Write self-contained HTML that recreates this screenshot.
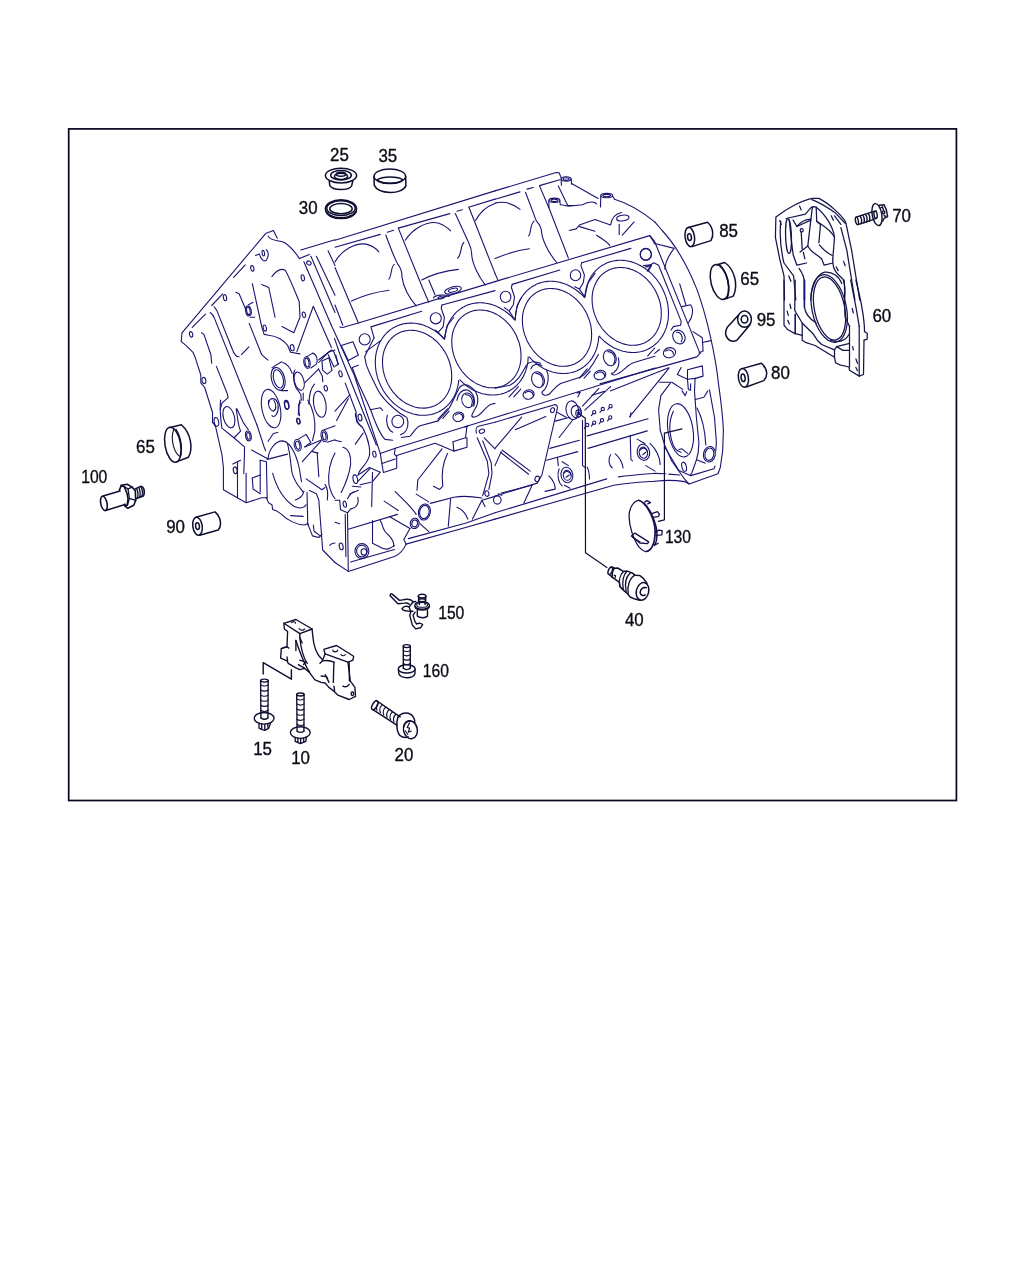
<!DOCTYPE html>
<html><head><meta charset="utf-8"><title>Cylinder crankcase</title>
<style>
html,body{margin:0;padding:0;background:#fff;}
body{width:1024px;height:1280px;overflow:hidden;position:relative;}
svg{position:absolute;left:0;top:0;display:block;}
text{font-family:"Liberation Sans",sans-serif;fill:#0a0a14;}
</style></head><body>
<svg width="1024" height="1280" viewBox="0 0 1024 1280" stroke-linecap="round" stroke-linejoin="round">
<rect x="0" y="0" width="1024" height="1280" fill="#ffffff" stroke="none"/>
<rect x="68.7" y="128.9" width="887.7" height="671.6" fill="none" stroke="#07041f" stroke-width="1.7" stroke-linejoin="miter"/>
<g id="art">
<ellipse cx="341.0" cy="175.6" rx="15.6" ry="7.3" transform="rotate(0 341.0 175.6)" stroke="#0e0e30" stroke-width="1.5" fill="none"/>
<ellipse cx="341.0" cy="175.2" rx="10.3" ry="4.7" transform="rotate(0 341.0 175.2)" stroke="#0e0e30" stroke-width="1.5" fill="none"/>
<ellipse cx="341.0" cy="176.3" rx="6.6" ry="3.1" transform="rotate(0 341.0 176.3)" stroke="#0e0e30" stroke-width="1.5" fill="none"/>
<ellipse cx="341.0" cy="174.2" rx="4.7" ry="2.0" transform="rotate(0 341.0 174.2)" stroke="#0e0e30" stroke-width="1.5" fill="none"/>
<path d="M 329.3 181.5 L 329.8 185.7 C 332.7 190.8 349.3 190.8 351.7 185.7 L 352.7 181.5" stroke="#0e0e30" stroke-width="1.5" fill="none"/>
<ellipse cx="389.8" cy="176.3" rx="15.8" ry="7.3" transform="rotate(0 389.8 176.3)" stroke="#0e0e30" stroke-width="1.5" fill="none"/>
<path d="M 377.1 179.8 C 382.5 176.1 398.1 176.1 403.0 179.8 C 398.1 184.4 382.5 184.4 377.1 179.8" stroke="#0e0e30" stroke-width="1.5" fill="none"/>
<path d="M 374.0 176.9 L 374.2 185.1 C 378.6 194.7 402.0 194.7 405.9 185.9 L 405.7 176.6" stroke="#0e0e30" stroke-width="1.5" fill="none"/>
<ellipse cx="341.0" cy="208.7" rx="15.6" ry="9.0" transform="rotate(0 341.0 208.7)" stroke="#0e0e30" stroke-width="1.5" fill="none"/>
<ellipse cx="341.0" cy="208.2" rx="14.2" ry="7.4" transform="rotate(0 341.0 208.2)" stroke="#0e0e30" stroke-width="1.5" fill="none"/>
<ellipse cx="341.0" cy="208.7" rx="11.2" ry="5.1" transform="rotate(0 341.0 208.7)" stroke="#0e0e30" stroke-width="1.5" fill="none"/>
<path d="M 325.7 211.1 C 328.8 221.1 353.2 221.1 356.5 211.1" stroke="#0e0e30" stroke-width="1.5" fill="none"/>
<ellipse cx="689.8" cy="237.0" rx="4.7" ry="9.7" transform="rotate(-8 689.8 237.0)" stroke="#0e0e30" stroke-width="1.5" fill="none"/>
<ellipse cx="689.5" cy="237.2" rx="1.9" ry="3.4" transform="rotate(-8 689.5 237.2)" stroke="#0e0e30" stroke-width="1.5" fill="none"/>
<path d="M 688.4 227.5 L 707.5 222.3 C 713.8 228.1 713.8 235.9 710.9 240.6 L 691.9 246.6" stroke="#0e0e30" stroke-width="1.5" fill="none"/>
<ellipse cx="719.4" cy="282.0" rx="8.4" ry="17.8" transform="rotate(-14 719.4 282.0)" stroke="#0e0e30" stroke-width="1.5" fill="none"/>
<path d="M 716.9 264.7 L 724.7 262.5 C 734.1 268.8 738.8 284.4 733.3 296.1 L 723.9 299.4" stroke="#0e0e30" stroke-width="1.5" fill="none"/>
<path d="M 719.7 264.8 C 728.1 273.4 730.9 287.5 727.2 298.4" stroke="#0e0e30" stroke-width="1.5" fill="none"/>
<ellipse cx="744.5" cy="319.2" rx="6.9" ry="8.1" transform="rotate(0 744.5 319.2)" stroke="#0e0e30" stroke-width="1.5" fill="none"/>
<ellipse cx="744.5" cy="319.2" rx="3.3" ry="3.8" transform="rotate(0 744.5 319.2)" stroke="#0e0e30" stroke-width="1.5" fill="none"/>
<path d="M 738.3 315.3 L 727.5 326.9 C 722.3 335.9 729.4 343.8 736.9 340.3 L 750.0 324.7" stroke="#0e0e30" stroke-width="1.5" fill="none"/>
<ellipse cx="743.4" cy="377.8" rx="5.0" ry="9.4" transform="rotate(-8 743.4 377.8)" stroke="#0e0e30" stroke-width="1.5" fill="none"/>
<ellipse cx="743.1" cy="377.8" rx="2.0" ry="3.8" transform="rotate(-8 743.1 377.8)" stroke="#0e0e30" stroke-width="1.5" fill="none"/>
<path d="M 742.2 368.6 L 761.4 363.3 C 768.4 369.5 767.7 376.6 763.8 380.6 L 746.2 387.0" stroke="#0e0e30" stroke-width="1.5" fill="none"/>
<path d="M 784.5 300.0 L 784.0 275.9 L 779.7 258.8 L 775.4 237.3 L 775.9 216.9 C 786.1 209.3 802.2 199.7 813.0 198.4 L 818.9 198.4 C 830.2 204.0 843.0 216.9 845.7 222.2 L 851.6 250.2 L 859.7 300.0" stroke="#15154c" stroke-width="1.25" fill="none"/>
<path d="M 811.9 199.7 C 820.5 202.9 830.2 209.3 835.5 213.1 L 845.2 223.3" stroke="#15154c" stroke-width="1.25" fill="none"/>
<path d="M 834.5 215.8 L 840.9 224.4" stroke="#15154c" stroke-width="1.25" fill="none"/>
<path d="M 840.9 227.6 L 846.8 250.2 L 854.9 300.0" stroke="#15154c" stroke-width="1.25" fill="none"/>
<path d="M 780.7 221.2 C 779.7 233.0 780.7 250.2 784.0 263.0 L 793.6 275.9 L 795.8 300.0" stroke="#15154c" stroke-width="1.25" fill="none"/>
<ellipse cx="788.5" cy="236.2" rx="2.9" ry="17.4" transform="rotate(-2 788.5 236.2)" stroke="#15154c" stroke-width="1.25" fill="none"/>
<path d="M 789.3 220.1 L 791.5 241.6 L 793.1 254.5 L 796.9 265.2 L 806.5 263.0" stroke="#15154c" stroke-width="1.25" fill="none"/>
<path d="M 786.1 218.5 L 805.4 214.2 L 811.4 207.2 L 813.0 207.2" stroke="#15154c" stroke-width="1.25" fill="none"/>
<path d="M 793.1 220.1 L 796.9 226.5 L 810.8 220.1" stroke="#15154c" stroke-width="1.25" fill="none"/>
<path d="M 796.9 226.5 C 801.2 221.2 806.5 219.0 810.8 219.0" stroke="#15154c" stroke-width="1.25" fill="none"/>
<path d="M 812.4 207.2 L 810.8 220.1 L 807.8 245.9 L 800.1 252.1" stroke="#15154c" stroke-width="1.25" fill="none"/>
<path d="M 801.2 231.9 L 802.2 249.1" stroke="#15154c" stroke-width="1.25" fill="none"/>
<path d="M 803.3 252.3 L 804.9 258.8" stroke="#15154c" stroke-width="1.25" fill="none"/>
<ellipse cx="801.7" cy="230.3" rx="1.5" ry="1.7" transform="rotate(0 801.7 230.3)" stroke="#15154c" stroke-width="1.25" fill="none"/>
<path d="M 813.0 206.7 L 816.2 207.2 L 816.7 221.2 L 820.5 224.4 L 818.9 242.6" stroke="#15154c" stroke-width="1.25" fill="none"/>
<path d="M 816.2 207.2 C 825.9 214.7 833.4 227.6 834.5 237.3 L 832.8 258.8" stroke="#15154c" stroke-width="1.25" fill="none"/>
<path d="M 816.7 221.2 L 821.6 224.4 C 828.0 228.7 832.3 233.0 834.5 237.3" stroke="#15154c" stroke-width="1.25" fill="none"/>
<path d="M 819.4 244.8 C 823.7 250.2 828.0 253.4 832.3 255.5" stroke="#15154c" stroke-width="1.25" fill="none"/>
<path d="M 807.8 245.9 C 810.8 252.3 817.3 254.5 821.6 258.8 L 824.2 265.2 L 832.8 263.0 L 832.8 258.8" stroke="#15154c" stroke-width="1.25" fill="none"/>
<path d="M 832.8 263.0 C 833.4 271.6 838.8 274.9 843.0 279.2 C 845.2 284.5 845.4 292.1 844.3 300.0" stroke="#15154c" stroke-width="1.25" fill="none"/>
<path d="M 799.5 206.1 L 801.2 209.9" stroke="#15154c" stroke-width="1.25" fill="none"/>
<path d="M 831.2 215.8 L 833.4 220.1" stroke="#15154c" stroke-width="1.25" fill="none"/>
<path d="M 779.7 220.6 L 781.3 224.4" stroke="#15154c" stroke-width="1.25" fill="none"/>
<path d="M 788.8 275.9 L 790.9 281.3" stroke="#15154c" stroke-width="1.25" fill="none"/>
<path d="M 843.6 261.4 L 845.2 265.7" stroke="#15154c" stroke-width="1.25" fill="none"/>
<path d="M 836.1 266.8 L 838.2 270.6" stroke="#15154c" stroke-width="1.25" fill="none"/>
<path d="M 799.0 268.4 C 802.2 272.7 803.8 275.9 804.4 281.3" stroke="#15154c" stroke-width="1.25" fill="none"/>
<path d="M 804.4 281.3 L 804.4 300.0" stroke="#1a1470" stroke-width="1.6" fill="none"/>
<path d="M 810.6 300.0 C 811.7 284.5 817.3 273.8 824.8 272.2 C 832.3 271.6 838.8 275.9 841.8 283.5" stroke="#15154c" stroke-width="1.25" fill="none"/>
<ellipse cx="829.5" cy="308.5" rx="15.1" ry="32.0" transform="rotate(-11.6 829.5 308.5)" stroke="#15154c" stroke-width="1.25" fill="none"/>
<ellipse cx="829.2" cy="308.5" rx="17.2" ry="34.3" transform="rotate(-11.6 829.2 308.5)" stroke="#15154c" stroke-width="1.25" fill="none"/>
<path d="M 784.0 280.0 L 784.0 325.1 L 787.2 329.2 L 794.5 333.4 L 802.2 335.3" stroke="#15154c" stroke-width="1.25" fill="none"/>
<path d="M 795.2 280.0 L 794.7 310.1 L 795.8 312.2 L 802.2 323.0 L 805.4 326.2 L 813.0 333.7 L 817.3 340.2 L 821.6 344.5 L 834.5 349.8 L 834.5 357.3" stroke="#15154c" stroke-width="1.25" fill="none"/>
<path d="M 795.2 314.4 L 795.2 333.7" stroke="#1a1470" stroke-width="1.6" fill="none"/>
<path d="M 804.4 280.0 L 804.4 306.9" stroke="#1a1470" stroke-width="1.6" fill="none"/>
<path d="M 802.2 323.0 L 802.2 340.2 L 805.4 342.3 L 815.1 345.5 L 834.5 357.3 L 835.5 362.7 L 839.8 364.9 L 849.0 367.0 L 849.5 370.2 L 859.2 376.1 L 863.5 374.5 L 864.0 340.2" stroke="#15154c" stroke-width="1.25" fill="none"/>
<path d="M 834.5 349.8 L 836.6 346.6 L 849.5 343.4" stroke="#15154c" stroke-width="1.25" fill="none"/>
<path d="M 836.6 346.6 L 843.0 350.4 L 849.5 350.4" stroke="#15154c" stroke-width="1.25" fill="none"/>
<path d="M 849.5 326.2 L 849.5 367.0" stroke="#15154c" stroke-width="1.25" fill="none"/>
<path d="M 859.2 326.2 L 859.2 376.1" stroke="#15154c" stroke-width="1.25" fill="none"/>
<path d="M 855.9 280.0 C 861.3 301.5 864.5 317.6 864.5 331.6 L 867.2 333.2 L 867.2 339.1 L 864.3 340.2" stroke="#15154c" stroke-width="1.25" fill="none"/>
<path d="M 850.6 280.0 L 855.9 306.9 L 859.2 326.2" stroke="#15154c" stroke-width="1.25" fill="none"/>
<path d="M 844.1 280.0 C 845.2 292.9 844.1 306.9 845.2 317.6 L 849.5 326.2" stroke="#15154c" stroke-width="1.25" fill="none"/>
<path d="M 804.4 306.9 C 805.4 315.4 810.8 319.7 816.2 323.0" stroke="#15154c" stroke-width="1.25" fill="none"/>
<path d="M 849.5 333.7 C 845.2 341.2 838.8 343.4 830.2 340.2" stroke="#15154c" stroke-width="1.25" fill="none"/>
<path d="M 789.9 304.2 L 790.9 308.5" stroke="#15154c" stroke-width="1.25" fill="none"/>
<path d="M 787.2 311.2 L 788.3 315.4" stroke="#15154c" stroke-width="1.25" fill="none"/>
<path d="M 787.7 320.3 L 789.3 324.0" stroke="#15154c" stroke-width="1.25" fill="none"/>
<path d="M 852.2 308.5 L 853.3 312.8" stroke="#15154c" stroke-width="1.25" fill="none"/>
<path d="M 852.7 346.6 L 853.3 349.8" stroke="#15154c" stroke-width="1.25" fill="none"/>
<path d="M 855.9 359.0 L 857.5 363.3" stroke="#15154c" stroke-width="1.25" fill="none"/>
<path d="M 855.9 367.5 L 857.5 370.8" stroke="#15154c" stroke-width="1.25" fill="none"/>
<ellipse cx="856.9" cy="220.9" rx="1.4" ry="3.8" transform="rotate(-12 856.9 220.9)" stroke="#0e0e30" stroke-width="1.4" fill="none"/>
<path d="M 856.2 217.1 L 870.8 212.3 L 876.2 210.9" stroke="#0e0e30" stroke-width="1.4" fill="none"/>
<path d="M 857.9 224.6 L 871.6 220.1 L 876.2 218.3" stroke="#0e0e30" stroke-width="1.4" fill="none"/>
<path d="M 859.8 216.2 C 861.6 217.3 862.2 221.2 861.0 223.8" stroke="#0e0e30" stroke-width="1.4" fill="none"/>
<path d="M 862.6 215.3 C 864.3 216.5 864.9 220.4 863.8 222.9" stroke="#0e0e30" stroke-width="1.4" fill="none"/>
<path d="M 865.3 214.5 C 867.0 215.7 867.7 219.6 866.5 222.1" stroke="#0e0e30" stroke-width="1.4" fill="none"/>
<path d="M 868.0 213.7 C 869.8 214.8 870.4 218.8 869.2 221.2" stroke="#0e0e30" stroke-width="1.4" fill="none"/>
<ellipse cx="875.6" cy="214.7" rx="1.6" ry="3.6" transform="rotate(-8 875.6 214.7)" stroke="#0e0e30" stroke-width="1.4" fill="none"/>
<ellipse cx="877.0" cy="214.6" rx="4.8" ry="11.1" transform="rotate(-10 877.0 214.6)" stroke="#0e0e30" stroke-width="1.4" fill="none"/>
<path d="M 879.4 205.2 L 884.1 204.7 L 886.4 209.9 L 887.6 216.6 L 884.1 218.3 L 882.7 221.2" stroke="#0e0e30" stroke-width="1.4" fill="none"/>
<path d="M 880.5 208.0 L 882.5 206.8 L 883.3 209.5" stroke="#0e0e30" stroke-width="1.4" fill="none"/>
<ellipse cx="883.7" cy="212.3" rx="1.1" ry="1.7" transform="rotate(0 883.7 212.3)" stroke="#0e0e30" stroke-width="1.4" fill="none"/>
<path d="M 884.1 215.8 L 885.6 216.2" stroke="#0e0e30" stroke-width="1.4" fill="none"/>
<ellipse cx="172.8" cy="444.7" rx="7.8" ry="17.7" transform="rotate(-10 172.8 444.7)" stroke="#0e0e30" stroke-width="1.5" fill="none"/>
<path d="M 170.1 427.5 L 181.4 424.8 C 191.5 433.8 193.1 449.4 188.4 457.2 L 176.4 461.9" stroke="#0e0e30" stroke-width="1.5" fill="none"/>
<path d="M 173.6 429.8 C 170.4 438.4 173.6 452.5 179.8 456.4" stroke="#0e0e30" stroke-width="1.1" fill="none"/>
<path d="M 175.9 429.1 C 181.4 436.9 182.6 449.4 180.6 456.4" stroke="#0e0e30" stroke-width="1.1" fill="none"/>
<ellipse cx="103.9" cy="503.4" rx="3.1" ry="7.3" transform="rotate(-12 103.9 503.4)" stroke="#0e0e30" stroke-width="1.6" fill="none"/>
<path d="M 103.1 496.1 L 120.0 491.1" stroke="#0e0e30" stroke-width="1.6" fill="none"/>
<path d="M 105.7 510.4 L 125.0 504.4" stroke="#0e0e30" stroke-width="1.6" fill="none"/>
<path d="M 119.4 490.1 L 121.3 485.4 L 124.3 486.7 L 127.2 494.0 L 128.0 498.8 L 127.2 505.2 L 124.8 505.9 L 124.8 504.2" stroke="#0e0e30" stroke-width="1.6" fill="none"/>
<path d="M 121.3 485.4 L 127.2 484.3 L 132.1 487.1 L 135.3 490.7 L 135.7 500.4 L 133.7 505.2 L 127.8 508.3 L 124.8 505.9" stroke="#0e0e30" stroke-width="1.6" fill="none"/>
<path d="M 124.3 486.7 L 128.0 488.9 L 132.1 487.1" stroke="#0e0e30" stroke-width="1.3" fill="none"/>
<path d="M 128.0 488.9 L 129.4 498.3 L 135.7 500.4" stroke="#0e0e30" stroke-width="1.3" fill="none"/>
<path d="M 129.4 498.3 L 127.5 505.2" stroke="#0e0e30" stroke-width="1.3" fill="none"/>
<path d="M 135.3 488.9 L 140.6 486.4 C 143.3 486.3 144.9 489.7 144.1 494.0 L 143.3 496.1 L 135.8 498.8" stroke="#0e0e30" stroke-width="1.6" fill="none"/>
<path d="M 136.6 488.6 C 138.0 491.3 138.2 495.6 137.4 498.3" stroke="#0e0e30" stroke-width="1.3" fill="none"/>
<path d="M 138.8 487.5 C 140.2 490.5 140.4 494.8 139.6 497.3" stroke="#0e0e30" stroke-width="1.3" fill="none"/>
<path d="M 140.9 486.7 C 142.5 489.7 142.7 494.0 141.8 496.5" stroke="#0e0e30" stroke-width="1.3" fill="none"/>
<ellipse cx="197.5" cy="526.2" rx="4.7" ry="9.1" transform="rotate(-8 197.5 526.2)" stroke="#0e0e30" stroke-width="1.5" fill="none"/>
<ellipse cx="197.5" cy="526.2" rx="1.9" ry="3.4" transform="rotate(-8 197.5 526.2)" stroke="#0e0e30" stroke-width="1.5" fill="none"/>
<path d="M 195.9 517.3 L 215.0 511.9 C 221.7 518.1 221.7 525.9 218.1 530.0 L 199.8 535.2" stroke="#0e0e30" stroke-width="1.5" fill="none"/>
<path d="M 578.6 413.3 L 585.3 418.3 L 585.5 552.7 L 606.9 567.5" stroke="#0e0e30" stroke-width="1.2" fill="none"/>
<path d="M 682.0 428.8 L 664.4 433.1 L 664.4 519.8 L 658.4 521.4" stroke="#0e0e30" stroke-width="1.2" fill="none"/>
<path d="M 638.7 500.3 C 633.5 500.9 629.4 507.9 629.1 515.5 C 628.8 525.5 633.5 539.5 638.7 546.6 C 641.7 550.1 644.0 551.5 646.4 551.5" stroke="#15104e" stroke-width="1.3" fill="none"/>
<path d="M 638.7 500.3 C 642.3 501.4 647.5 507.3 651.0 514.3 C 654.0 520.8 655.4 527.8 655.1 533.1 C 654.9 540.7 652.8 546.6 650.5 549.2 C 649.0 550.7 647.5 551.5 646.4 551.5" stroke="#15104e" stroke-width="1.7" fill="none"/>
<path d="M 644.6 503.8 C 649.3 508.5 654.0 518.4 656.3 527.8 C 657.5 534.8 656.9 541.3 654.6 545.4" stroke="#15104e" stroke-width="1.5" fill="none"/>
<path d="M 644.6 502.1 L 646.9 500.6 L 650.5 502.6 L 647.7 503.9" stroke="#15104e" stroke-width="1.3" fill="none"/>
<path d="M 651.0 513.9 L 657.5 511.7 L 659.5 514.3 L 658.1 516.7 L 652.9 517.4" stroke="#15104e" stroke-width="1.3" fill="none"/>
<path d="M 655.3 532.5 L 658.7 530.1 L 662.2 530.7 L 661.9 534.8 L 655.9 535.4" stroke="#15104e" stroke-width="1.3" fill="none"/>
<path d="M 654.7 544.8 L 658.1 543.3" stroke="#15104e" stroke-width="1.3" fill="none"/>
<path d="M 631.4 536.0 L 634.9 533.1 L 648.7 541.9 L 647.5 543.6 L 639.9 543.0 Z" stroke="#15104e" stroke-width="1.3" fill="none"/>
<path d="M 632.6 537.3 L 640.2 542.0" stroke="#15104e" stroke-width="1.1" fill="none"/>
<ellipse cx="610.3" cy="570.8" rx="1.9" ry="3.9" transform="rotate(22 610.3 570.8)" stroke="#0e0e30" stroke-width="1.5" fill="none"/>
<path d="M 611.7 567.0 L 614.5 568.2" stroke="#0e0e30" stroke-width="1.5" fill="none"/>
<path d="M 609.4 574.6 L 612.4 577.3" stroke="#0e0e30" stroke-width="1.5" fill="none"/>
<path d="M 614.5 568.2 C 612.6 570.2 612.0 574.3 612.4 577.3" stroke="#0e0e30" stroke-width="1.5" fill="none"/>
<path d="M 615.3 568.2 L 617.6 568.0 L 623.4 571.4 L 626.9 571.1 L 631.6 572.6 L 635.1 575.2 L 639.8 575.5 L 643.4 578.4 L 646.9 583.1" stroke="#0e0e30" stroke-width="1.5" fill="none"/>
<path d="M 612.4 577.3 L 619.3 582.2 L 619.9 586.6 L 623.4 590.1 L 627.5 593.7 L 630.5 597.2 L 635.1 599.1 L 639.8 600.2" stroke="#0e0e30" stroke-width="1.5" fill="none"/>
<path d="M 614.1 575.2 L 615.5 575.5 L 615.2 577.6" stroke="#0e0e30" stroke-width="1.2" fill="none"/>
<path d="M 623.3 571.7 C 619.9 574.9 618.7 580.8 619.9 585.8" stroke="#0e0e30" stroke-width="1.3" fill="none"/>
<path d="M 626.7 571.5 C 623.0 574.9 622.0 582.5 623.3 589.0" stroke="#0e0e30" stroke-width="1.3" fill="none"/>
<path d="M 630.8 572.6 C 625.8 576.7 624.6 584.3 626.2 591.4" stroke="#0e0e30" stroke-width="1.3" fill="none"/>
<path d="M 634.9 575.1 C 629.3 578.4 626.9 586.6 628.2 593.8" stroke="#0e0e30" stroke-width="1.3" fill="none"/>
<ellipse cx="642.5" cy="591.4" rx="6.2" ry="8.9" transform="rotate(14 642.5 591.4)" stroke="#0e0e30" stroke-width="1.5" fill="none"/>
<path d="M 646.3 587.8 C 643.4 586.6 640.4 589.0 640.1 592.5 C 640.4 595.5 643.4 596.1 645.1 594.8" stroke="#0e0e30" stroke-width="1.5" fill="none"/>
<path d="M 390.4 596.1 C 389.7 594.5 390.9 593.3 392.2 594.1 L 399.5 600.4 L 406.5 599.3 C 409.7 599.1 411.9 600.4 413.0 601.5" stroke="#0e0e30" stroke-width="1.4" fill="none"/>
<path d="M 390.4 596.1 L 397.9 603.8 L 404.4 603.1 C 406.5 602.8 408.1 603.1 409.2 604.2" stroke="#0e0e30" stroke-width="1.4" fill="none"/>
<path d="M 402.2 608.5 C 403.3 606.3 406.5 605.6 409.2 606.9 L 413.0 602.0 L 415.7 601.5" stroke="#0e0e30" stroke-width="1.4" fill="none"/>
<path d="M 402.2 608.5 C 402.2 610.6 404.4 611.2 413.0 611.2" stroke="#0e0e30" stroke-width="1.4" fill="none"/>
<path d="M 409.2 606.9 L 410.8 612.2 L 409.7 615.4 L 412.4 625.1 L 415.7 628.9 L 420.5 627.8 L 422.6 624.6 C 421.6 623.0 418.3 623.0 416.7 624.0 L 415.1 621.9 L 413.0 615.4 L 415.1 612.2" stroke="#0e0e30" stroke-width="1.4" fill="none"/>
<ellipse cx="422.1" cy="596.1" rx="3.8" ry="1.9" transform="rotate(0 422.1 596.1)" stroke="#0e0e30" stroke-width="1.4" fill="none"/>
<path d="M 418.3 596.4 L 418.9 599.9" stroke="#0e0e30" stroke-width="1.4" fill="none"/>
<path d="M 425.9 596.4 L 425.5 599.9" stroke="#0e0e30" stroke-width="1.4" fill="none"/>
<ellipse cx="422.1" cy="600.2" rx="3.7" ry="1.5" transform="rotate(0 422.1 600.2)" stroke="#0e0e30" stroke-width="1.4" fill="none"/>
<path d="M 419.4 601.5 L 419.4 604.5" stroke="#0e0e30" stroke-width="1.4" fill="none"/>
<path d="M 425.1 601.5 L 425.1 604.5" stroke="#0e0e30" stroke-width="1.4" fill="none"/>
<ellipse cx="422.1" cy="605.4" rx="7.3" ry="3.8" transform="rotate(0 422.1 605.4)" stroke="#0e0e30" stroke-width="1.4" fill="none"/>
<ellipse cx="422.1" cy="604.9" rx="5.4" ry="2.4" transform="rotate(0 422.1 604.9)" stroke="#0e0e30" stroke-width="1.1" fill="none"/>
<path d="M 414.9 606.4 C 415.7 611.4 428.5 611.4 429.3 606.4" stroke="#0e0e30" stroke-width="1.4" fill="none"/>
<path d="M 417.3 610.4 L 417.3 616.0 C 419.4 618.3 425.9 618.3 427.5 616.0 L 427.5 610.4" stroke="#0e0e30" stroke-width="1.4" fill="none"/>
<ellipse cx="406.7" cy="646.1" rx="3.5" ry="1.5" transform="rotate(0 406.7 646.1)" stroke="#0e0e30" stroke-width="1.4" fill="none"/>
<path d="M 403.3 646.1 L 403.3 668.3" stroke="#0e0e30" stroke-width="1.4" fill="none"/>
<path d="M 410.3 646.1 L 410.3 668.3" stroke="#0e0e30" stroke-width="1.4" fill="none"/>
<path d="M 403.3 650.4 C 404.9 651.9 408.7 651.9 410.3 650.4" stroke="#0e0e30" stroke-width="1.1" fill="none"/>
<path d="M 403.3 654.7 C 404.9 656.2 408.7 656.2 410.3 654.7" stroke="#0e0e30" stroke-width="1.1" fill="none"/>
<path d="M 403.3 659.0 C 404.9 660.5 408.7 660.5 410.3 659.0" stroke="#0e0e30" stroke-width="1.1" fill="none"/>
<path d="M 403.3 663.3 C 404.9 664.8 408.7 664.8 410.3 663.3" stroke="#0e0e30" stroke-width="1.1" fill="none"/>
<path d="M 403.3 668.3 C 404.9 670.0 408.7 670.0 410.3 668.3" stroke="#0e0e30" stroke-width="1.4" fill="none"/>
<ellipse cx="406.7" cy="668.9" rx="8.4" ry="4.1" transform="rotate(0 406.7 668.9)" stroke="#0e0e30" stroke-width="1.4" fill="none"/>
<path d="M 398.4 669.4 L 398.8 673.7 C 401.2 679.0 413.0 679.0 414.9 673.7 L 415.1 669.4" stroke="#0e0e30" stroke-width="1.4" fill="none"/>
<path d="M 283.8 623.3 L 295.9 619.5 L 312.1 629.0 L 299.9 633.6 Z" stroke="#0e0e30" stroke-width="1.35" fill="none"/>
<path d="M 283.8 623.3 L 284.4 629.0 L 287.6 631.6 L 287.0 646.8 L 281.3 648.7 L 280.6 658.2 L 287.0 660.8 L 288.2 663.3 L 295.9 667.8 L 299.7 669.7 L 304.7 668.4 L 309.2 672.2 L 314.9 679.8 L 321.2 682.4 L 325.1 683.0 L 328.9 687.4 L 333.9 691.2 L 337.8 695.1 L 349.2 699.5 L 355.5 696.3 L 354.9 687.4 L 350.4 681.1 L 347.9 662.1" stroke="#0e0e30" stroke-width="1.35" fill="none"/>
<path d="M 299.9 633.6 L 299.7 637.3 L 302.2 643.0" stroke="#0e0e30" stroke-width="1.35" fill="none"/>
<path d="M 312.1 629.0 L 312.6 634.4 C 313.6 648.1 317.4 655.7 322.5 659.8" stroke="#0e0e30" stroke-width="1.35" fill="none"/>
<path d="M 295.9 640.5 C 299.7 651.9 303.5 663.3 309.6 672.2" stroke="#0e0e30" stroke-width="1.35" fill="none"/>
<path d="M 299.7 637.3 C 300.9 648.1 303.5 658.2 307.3 663.3" stroke="#0e0e30" stroke-width="1.35" fill="none"/>
<path d="M 295.9 640.5 L 295.9 650.6" stroke="#0e0e30" stroke-width="1.35" fill="none"/>
<path d="M 287.0 646.8 L 288.9 648.1" stroke="#0e0e30" stroke-width="1.35" fill="none"/>
<path d="M 281.3 648.7 L 283.8 647.5 L 287.0 646.8" stroke="#0e0e30" stroke-width="1.35" fill="none"/>
<path d="M 291.4 622.7 C 292.7 621.2 295.2 621.7 295.6 623.3" stroke="#0e0e30" stroke-width="1.1" fill="none"/>
<path d="M 299.0 628.4 C 299.7 630.3 302.8 630.9 304.7 629.0" stroke="#0e0e30" stroke-width="1.1" fill="none"/>
<path d="M 323.8 649.4 L 336.5 645.5 L 353.6 656.3 L 353.0 660.1 L 347.9 662.1 L 325.1 653.8 Z" stroke="#0e0e30" stroke-width="1.35" fill="none"/>
<path d="M 325.1 653.8 L 322.5 660.8 L 320.0 663.3" stroke="#0e0e30" stroke-width="1.35" fill="none"/>
<path d="M 333.9 662.1 L 333.3 682.4" stroke="#0e0e30" stroke-width="1.35" fill="none"/>
<path d="M 349.2 662.7 L 349.4 681.1" stroke="#0e0e30" stroke-width="1.35" fill="none"/>
<path d="M 332.7 650.0 C 333.3 652.5 337.1 652.5 337.8 650.0" stroke="#0e0e30" stroke-width="1.1" fill="none"/>
<path d="M 340.9 654.7 C 342.2 656.3 344.7 656.0 345.4 654.4" stroke="#0e0e30" stroke-width="1.1" fill="none"/>
<path d="M 322.5 660.8 C 327.6 660.1 331.4 660.8 333.9 662.1" stroke="#0e0e30" stroke-width="1.35" fill="none"/>
<path d="M 321.2 676.0 L 326.3 676.6 L 328.9 682.4" stroke="#0e0e30" stroke-width="1.35" fill="none"/>
<path d="M 325.1 674.7 L 327.6 678.6" stroke="#0e0e30" stroke-width="1.35" fill="none"/>
<path d="M 299.7 660.1 L 306.0 662.1 L 303.5 664.6" stroke="#0e0e30" stroke-width="1.35" fill="none"/>
<path d="M 298.4 664.6 C 300.9 666.5 303.5 667.1 304.7 668.4" stroke="#0e0e30" stroke-width="1.35" fill="none"/>
<path d="M 287.0 657.0 L 287.6 660.8" stroke="#0e0e30" stroke-width="1.35" fill="none"/>
<path d="M 342.8 686.2 C 345.4 687.4 347.9 686.2 349.2 684.3" stroke="#0e0e30" stroke-width="1.35" fill="none"/>
<path d="M 333.9 686.2 L 334.6 691.2" stroke="#0e0e30" stroke-width="1.35" fill="none"/>
<ellipse cx="352.4" cy="693.8" rx="1.3" ry="1.8" transform="rotate(0 352.4 693.8)" stroke="#0e0e30" stroke-width="1.35" fill="none"/>
<path d="M 263.2 674.1 L 263.2 662.7 L 291.4 679.2 L 291.4 669.7" stroke="#0e0e30" stroke-width="1.4" fill="none"/>
<ellipse cx="264.4" cy="680.6" rx="3.8" ry="1.5" transform="rotate(0 264.4 680.6)" stroke="#0e0e30" stroke-width="1.35" fill="none"/>
<path d="M 260.6 680.6 L 260.9 717.9" stroke="#0e0e30" stroke-width="1.35" fill="none"/>
<path d="M 268.2 680.6 L 267.9 717.9" stroke="#0e0e30" stroke-width="1.35" fill="none"/>
<path d="M 260.7 684.9 C 262.6 686.4 266.2 686.4 268.1 684.9" stroke="#0e0e30" stroke-width="1.1" fill="none"/>
<path d="M 260.7 690.0 C 262.6 691.5 266.2 691.5 268.1 690.0" stroke="#0e0e30" stroke-width="1.1" fill="none"/>
<path d="M 260.7 695.1 C 262.6 696.6 266.2 696.6 268.1 695.1" stroke="#0e0e30" stroke-width="1.1" fill="none"/>
<path d="M 260.7 700.1 C 262.6 701.7 266.2 701.7 268.1 700.1" stroke="#0e0e30" stroke-width="1.1" fill="none"/>
<path d="M 260.7 705.2 C 262.6 706.7 266.2 706.7 268.1 705.2" stroke="#0e0e30" stroke-width="1.1" fill="none"/>
<path d="M 260.7 710.3 C 262.6 711.8 266.2 711.8 268.1 710.3" stroke="#0e0e30" stroke-width="1.1" fill="none"/>
<path d="M 260.9 717.9 C 262.9 719.4 266.0 719.4 267.9 717.9" stroke="#0e0e30" stroke-width="1.35" fill="none"/>
<ellipse cx="264.1" cy="718.3" rx="9.9" ry="5.8" transform="rotate(0 264.1 718.3)" stroke="#0e0e30" stroke-width="1.35" fill="none"/>
<path d="M 259.0 723.2 L 259.0 728.1 L 262.2 729.6 L 264.8 730.4 L 268.6 728.3 L 270.5 723.2" stroke="#0e0e30" stroke-width="1.35" fill="none"/>
<path d="M 261.6 724.0 L 261.8 729.1" stroke="#0e0e30" stroke-width="1.35" fill="none"/>
<path d="M 264.8 724.3 L 264.8 730.1" stroke="#0e0e30" stroke-width="1.35" fill="none"/>
<path d="M 267.7 724.0 L 268.2 728.3" stroke="#0e0e30" stroke-width="1.35" fill="none"/>
<ellipse cx="300.4" cy="694.5" rx="3.7" ry="1.5" transform="rotate(0 300.4 694.5)" stroke="#0e0e30" stroke-width="1.35" fill="none"/>
<path d="M 296.7 694.5 L 297.1 731.2" stroke="#0e0e30" stroke-width="1.35" fill="none"/>
<path d="M 304.1 694.5 L 303.9 731.2" stroke="#0e0e30" stroke-width="1.35" fill="none"/>
<path d="M 296.9 698.9 C 298.8 700.4 302.2 700.4 304.0 698.9" stroke="#0e0e30" stroke-width="1.1" fill="none"/>
<path d="M 296.9 703.9 C 298.8 705.5 302.2 705.5 304.0 703.9" stroke="#0e0e30" stroke-width="1.1" fill="none"/>
<path d="M 296.9 709.0 C 298.8 710.5 302.2 710.5 304.0 709.0" stroke="#0e0e30" stroke-width="1.1" fill="none"/>
<path d="M 296.9 714.1 C 298.8 715.6 302.2 715.6 304.0 714.1" stroke="#0e0e30" stroke-width="1.1" fill="none"/>
<path d="M 296.9 719.2 C 298.8 720.7 302.2 720.7 304.0 719.2" stroke="#0e0e30" stroke-width="1.1" fill="none"/>
<path d="M 296.9 724.3 C 298.8 725.8 302.2 725.8 304.0 724.3" stroke="#0e0e30" stroke-width="1.1" fill="none"/>
<path d="M 297.1 731.2 C 299.0 732.8 302.2 732.8 303.9 731.2" stroke="#0e0e30" stroke-width="1.35" fill="none"/>
<ellipse cx="300.3" cy="732.5" rx="9.9" ry="5.8" transform="rotate(0 300.3 732.5)" stroke="#0e0e30" stroke-width="1.35" fill="none"/>
<path d="M 295.2 737.6 L 295.2 741.4 L 300.3 743.6 L 305.8 741.4 L 306.3 737.0" stroke="#0e0e30" stroke-width="1.35" fill="none"/>
<path d="M 297.8 738.2 L 298.0 742.3" stroke="#0e0e30" stroke-width="1.35" fill="none"/>
<path d="M 300.7 738.5 L 300.7 743.3" stroke="#0e0e30" stroke-width="1.35" fill="none"/>
<path d="M 303.5 738.2 L 303.9 742.0" stroke="#0e0e30" stroke-width="1.35" fill="none"/>
<ellipse cx="374.8" cy="705.3" rx="2.3" ry="4.9" transform="rotate(30 374.8 705.3)" stroke="#0e0e30" stroke-width="1.5" fill="none"/>
<path d="M 376.4 700.5 L 400.1 716.9" stroke="#0e0e30" stroke-width="1.5" fill="none"/>
<path d="M 373.3 709.8 L 396.9 725.1" stroke="#0e0e30" stroke-width="1.5" fill="none"/>
<path d="M 378.8 702.6 C 376.1 704.9 376.1 708.5 377.0 710.2" stroke="#0e0e30" stroke-width="1.2" fill="none"/>
<path d="M 382.2 704.9 C 379.5 707.3 379.5 710.8 380.4 712.6" stroke="#0e0e30" stroke-width="1.2" fill="none"/>
<path d="M 385.6 707.3 C 382.9 709.6 382.9 713.1 383.8 714.9" stroke="#0e0e30" stroke-width="1.2" fill="none"/>
<path d="M 389.0 709.6 C 386.3 712.0 386.3 715.5 387.2 717.2" stroke="#0e0e30" stroke-width="1.2" fill="none"/>
<path d="M 392.4 712.0 C 389.7 714.3 389.7 717.8 390.6 719.6" stroke="#0e0e30" stroke-width="1.2" fill="none"/>
<path d="M 395.8 714.3 C 393.1 716.7 393.1 720.2 394.0 721.9" stroke="#0e0e30" stroke-width="1.2" fill="none"/>
<path d="M 397.8 717.5 C 400.1 713.4 404.8 712.3 408.4 713.3 C 411.9 714.6 414.8 718.1 414.9 722.8" stroke="#0e0e30" stroke-width="1.5" fill="none"/>
<path d="M 397.8 717.5 C 396.0 722.8 396.6 732.2 400.1 735.7 C 402.5 737.5 406.0 737.7 408.4 736.9" stroke="#0e0e30" stroke-width="1.5" fill="none"/>
<ellipse cx="410.4" cy="729.7" rx="6.9" ry="9.1" transform="rotate(-12 410.4 729.7)" stroke="#0e0e30" stroke-width="1.5" fill="none"/>
<path d="M 403.7 727.5 C 404.3 724.0 407.2 721.0 411.3 721.0" stroke="#0e0e30" stroke-width="1.2" fill="none"/>
<path d="M 409.5 722.8 L 407.2 727.5 L 409.5 728.1 L 408.4 732.2 L 411.3 731.0" stroke="#0e0e30" stroke-width="1.2" fill="none"/>
<path d="M 405.4 731.0 L 407.8 734.5" stroke="#0e0e30" stroke-width="1.2" fill="none"/>
<path d="M 273.4 230.6 L 265.6 233.6 L 182.0 332.8 L 181.2 341.4 L 186.7 346.1 L 193.0 352.3 L 195.3 357.8 L 200.8 375.0 L 200.8 382.8 L 204.7 387.5 L 212.5 412.5 L 212.5 422.7" stroke="#1a1470" stroke-width="1.1" fill="none"/>
<path d="M 273.4 230.6 L 277.3 238.3" stroke="#1a1470" stroke-width="1.1" fill="none"/>
<path d="M 268.0 235.9 C 270.3 241.4 278.1 239.8 284.4 242.5 C 291.4 246.9 296.9 254.7 299.5 258.6" stroke="#1a1470" stroke-width="1.1" fill="none"/>
<path d="M 300.8 250.0 L 335.0 239.8" stroke="#1a1470" stroke-width="1.1" fill="none"/>
<path d="M 299.5 258.6 L 309.4 254.4" stroke="#1a1470" stroke-width="1.1" fill="none"/>
<path d="M 245.3 264.8 L 233.6 277.3" stroke="#1a1470" stroke-width="1.1" fill="none"/>
<path d="M 222.7 293.8 L 211.7 305.5" stroke="#1a1470" stroke-width="1.1" fill="none"/>
<path d="M 205.5 314.1 L 192.2 327.3" stroke="#1a1470" stroke-width="1.1" fill="none"/>
<ellipse cx="252.3" cy="268.4" rx="1.6" ry="2.8" transform="rotate(-12 252.3 268.4)" stroke="#1a1470" stroke-width="1.1" fill="none"/>
<ellipse cx="225.0" cy="297.7" rx="1.6" ry="3.1" transform="rotate(-12 225.0 297.7)" stroke="#1a1470" stroke-width="1.1" fill="none"/>
<ellipse cx="191.1" cy="334.4" rx="1.6" ry="2.8" transform="rotate(-12 191.1 334.4)" stroke="#1a1470" stroke-width="1.1" fill="none"/>
<ellipse cx="203.9" cy="380.5" rx="1.9" ry="3.1" transform="rotate(-12 203.9 380.5)" stroke="#1a1470" stroke-width="1.1" fill="none"/>
<ellipse cx="302.8" cy="277.8" rx="1.6" ry="3.1" transform="rotate(-12 302.8 277.8)" stroke="#1a1470" stroke-width="1.1" fill="none"/>
<ellipse cx="303.9" cy="314.8" rx="1.6" ry="2.8" transform="rotate(-12 303.9 314.8)" stroke="#1a1470" stroke-width="1.1" fill="none"/>
<ellipse cx="264.8" cy="328.1" rx="1.6" ry="3.1" transform="rotate(-12 264.8 328.1)" stroke="#1a1470" stroke-width="1.1" fill="none"/>
<ellipse cx="292.2" cy="347.7" rx="1.9" ry="3.1" transform="rotate(-12 292.2 347.7)" stroke="#1a1470" stroke-width="1.1" fill="none"/>
<ellipse cx="325.8" cy="388.3" rx="1.6" ry="2.8" transform="rotate(-12 325.8 388.3)" stroke="#1a1470" stroke-width="1.1" fill="none"/>
<ellipse cx="286.7" cy="404.7" rx="2.2" ry="4.4" transform="rotate(-12 286.7 404.7)" stroke="#1a1470" stroke-width="1.1" fill="none"/>
<ellipse cx="298.4" cy="421.1" rx="1.6" ry="2.8" transform="rotate(-12 298.4 421.1)" stroke="#1a1470" stroke-width="1.1" fill="none"/>
<path d="M 255.5 255.5 L 259.4 253.9 C 260.6 259.4 264.1 262.2 266.4 260.2 C 269.1 256.2 268.8 251.6 266.4 249.7" stroke="#1a1470" stroke-width="1.1" fill="none"/>
<ellipse cx="263.3" cy="253.1" rx="1.2" ry="2.8" transform="rotate(-10 263.3 253.1)" stroke="#1a1470" stroke-width="1.1" fill="none"/>
<path d="M 271.9 276.6 C 276.6 270.3 281.2 268.0 285.2 270.3 C 289.1 276.6 295.3 292.2 299.2 301.6 L 300.0 317.2 L 293.8 332.8 L 282.0 326.6" stroke="#1a1470" stroke-width="1.1" fill="none"/>
<path d="M 261.7 284.4 L 268.8 287.5 L 275.0 317.2" stroke="#1a1470" stroke-width="1.1" fill="none"/>
<path d="M 252.3 283.6 L 261.7 326.6 L 264.1 334.4 L 268.8 335.2 C 276.6 335.9 284.4 340.6 287.5 345.3 L 290.6 352.3 L 300.0 353.9" stroke="#1a1470" stroke-width="1.1" fill="none"/>
<path d="M 296.9 351.6 L 313.3 306.2 L 331.4 347.5" stroke="#1a1470" stroke-width="1.1" fill="none"/>
<path d="M 303.9 261.7 L 331.2 325.0" stroke="#1a1470" stroke-width="1.1" fill="none"/>
<path d="M 310.9 256.2 L 335.0 312.5" stroke="#1a1470" stroke-width="1.1" fill="none"/>
<path d="M 316.4 256.2 L 335.0 295.3" stroke="#1a1470" stroke-width="1.1" fill="none"/>
<path d="M 328.1 250.8 L 335.0 265.6" stroke="#1a1470" stroke-width="1.1" fill="none"/>
<ellipse cx="308.9" cy="263.0" rx="2.3" ry="1.9" transform="rotate(30 308.9 263.0)" stroke="#1a1470" stroke-width="1.1" fill="none"/>
<path d="M 235.9 292.2 L 239.1 293.8 L 246.1 310.2" stroke="#1a1470" stroke-width="1.1" fill="none"/>
<ellipse cx="248.4" cy="310.9" rx="2.8" ry="5.0" transform="rotate(-10 248.4 310.9)" stroke="#1a1470" stroke-width="1.1" fill="none"/>
<ellipse cx="248.4" cy="310.9" rx="1.7" ry="3.8" transform="rotate(-10 248.4 310.9)" stroke="#1a1470" stroke-width="1.1" fill="none"/>
<path d="M 248.1 305.0 L 253.1 302.3" stroke="#1a1470" stroke-width="1.1" fill="none"/>
<path d="M 250.0 317.2 L 254.7 317.2" stroke="#1a1470" stroke-width="1.1" fill="none"/>
<path d="M 249.2 323.4 L 261.7 354.7 L 268.0 360.2" stroke="#1a1470" stroke-width="1.1" fill="none"/>
<path d="M 210.2 312.5 C 212.5 314.1 213.8 316.4 214.5 318.4 L 245.0 395.0 L 257.0 425.0" stroke="#1a1470" stroke-width="1.1" fill="none"/>
<path d="M 214.1 306.7 L 216.9 310.6 L 232.5 349.7 C 234.4 354.7 236.7 357.0 239.1 356.7" stroke="#1a1470" stroke-width="1.1" fill="none"/>
<path d="M 241.4 354.7 L 248.9 346.9" stroke="#1a1470" stroke-width="1.1" fill="none"/>
<path d="M 201.6 332.8 L 203.9 334.4 L 210.9 354.7 L 211.7 363.3" stroke="#1a1470" stroke-width="1.1" fill="none"/>
<path d="M 216.4 366.4 L 227.3 393.8 L 228.1 397.7 L 221.9 403.1 L 220.3 409.4" stroke="#1a1470" stroke-width="1.1" fill="none"/>
<ellipse cx="278.1" cy="378.9" rx="6.6" ry="11.7" transform="rotate(-15 278.1 378.9)" stroke="#1a1470" stroke-width="1.1" fill="none"/>
<ellipse cx="278.4" cy="378.9" rx="4.7" ry="9.4" transform="rotate(-15 278.4 378.9)" stroke="#1a1470" stroke-width="1.1" fill="none"/>
<path d="M 282.8 362.5 C 287.5 364.1 290.6 368.8 292.2 373.4" stroke="#1a1470" stroke-width="1.1" fill="none"/>
<path d="M 281.2 390.6 L 287.5 390.6" stroke="#1a1470" stroke-width="1.1" fill="none"/>
<ellipse cx="299.2" cy="381.2" rx="4.7" ry="9.4" transform="rotate(-15 299.2 381.2)" stroke="#1a1470" stroke-width="1.1" fill="none"/>
<ellipse cx="307.0" cy="362.5" rx="3.1" ry="5.9" transform="rotate(-10 307.0 362.5)" stroke="#1a1470" stroke-width="1.1" fill="none"/>
<ellipse cx="307.0" cy="362.5" rx="1.9" ry="4.4" transform="rotate(-10 307.0 362.5)" stroke="#1a1470" stroke-width="1.1" fill="none"/>
<path d="M 307.0 356.6 L 312.5 353.1 C 316.4 353.9 318.3 359.4 316.4 364.1 L 310.9 368.0" stroke="#1a1470" stroke-width="1.1" fill="none"/>
<path d="M 321.9 360.9 L 328.9 357.8 L 332.0 370.3 L 327.3 374.2 L 322.7 370.3 Z" stroke="#1a1470" stroke-width="1.1" fill="none"/>
<path d="M 318.8 362.5 L 328.1 352.3 L 335.0 350.0" stroke="#1a1470" stroke-width="1.1" fill="none"/>
<path d="M 304.7 382.8 L 318.8 368.8" stroke="#1a1470" stroke-width="1.1" fill="none"/>
<path d="M 212.5 421.9 L 215.6 426.6 L 221.9 454.7 L 223.4 467.2 L 223.4 489.8 L 246.1 502.8 L 261.7 497.7 L 266.4 497.7" stroke="#1a1470" stroke-width="1.1" fill="none"/>
<ellipse cx="216.4" cy="421.9" rx="2.2" ry="4.4" transform="rotate(-12 216.4 421.9)" stroke="#1a1470" stroke-width="1.1" fill="none"/>
<ellipse cx="228.9" cy="417.2" rx="5.5" ry="10.9" transform="rotate(-15 228.9 417.2)" stroke="#1a1470" stroke-width="1.1" fill="none"/>
<path d="M 220.6 400.0 C 219.5 409.4 220.6 418.8 221.9 428.1 L 233.6 437.5 L 244.5 446.9 L 244.5 451.6 L 243.8 473.4" stroke="#1a1470" stroke-width="1.1" fill="none"/>
<path d="M 234.4 437.5 L 240.6 431.2 C 237.5 423.4 237.5 415.6 236.2 409.1" stroke="#1a1470" stroke-width="1.1" fill="none"/>
<path d="M 236.7 408.6 L 243.8 423.4 L 248.4 429.7" stroke="#1a1470" stroke-width="1.1" fill="none"/>
<ellipse cx="248.4" cy="435.9" rx="2.8" ry="5.0" transform="rotate(-10 248.4 435.9)" stroke="#1a1470" stroke-width="1.1" fill="none"/>
<ellipse cx="248.4" cy="435.9" rx="1.6" ry="3.4" transform="rotate(-10 248.4 435.9)" stroke="#1a1470" stroke-width="1.1" fill="none"/>
<path d="M 257.0 425.0 L 264.1 446.9 L 265.6 450.8" stroke="#1a1470" stroke-width="1.1" fill="none"/>
<ellipse cx="271.1" cy="408.6" rx="9.1" ry="19.5" transform="rotate(-12 271.1 408.6)" stroke="#1a1470" stroke-width="1.1" fill="none"/>
<path d="M 268.8 403.1 C 268.8 396.9 276.6 396.9 278.1 404.7 C 278.9 412.5 275.0 418.8 271.9 415.6" stroke="#1a1470" stroke-width="1.1" fill="none"/>
<ellipse cx="286.7" cy="405.5" rx="1.9" ry="3.9" transform="rotate(-10 286.7 405.5)" stroke="#1a1470" stroke-width="1.1" fill="none"/>
<ellipse cx="298.4" cy="421.1" rx="1.6" ry="2.8" transform="rotate(-10 298.4 421.1)" stroke="#1a1470" stroke-width="1.1" fill="none"/>
<path d="M 300.0 400.0 C 298.4 406.2 298.4 410.9 299.7 415.6" stroke="#1a1470" stroke-width="1.1" fill="none"/>
<path d="M 307.8 400.0 C 312.5 407.8 315.6 418.8 314.8 431.2 L 312.5 440.6" stroke="#1a1470" stroke-width="1.1" fill="none"/>
<ellipse cx="297.7" cy="445.3" rx="3.4" ry="5.9" transform="rotate(-12 297.7 445.3)" stroke="#1a1470" stroke-width="1.1" fill="none"/>
<ellipse cx="297.7" cy="445.3" rx="2.0" ry="4.1" transform="rotate(-12 297.7 445.3)" stroke="#1a1470" stroke-width="1.1" fill="none"/>
<path d="M 298.4 439.1 L 306.2 434.4 L 310.9 442.5 L 304.7 446.9" stroke="#1a1470" stroke-width="1.1" fill="none"/>
<ellipse cx="324.2" cy="435.9" rx="3.1" ry="5.9" transform="rotate(-10 324.2 435.9)" stroke="#1a1470" stroke-width="1.1" fill="none"/>
<ellipse cx="324.2" cy="435.9" rx="1.7" ry="4.1" transform="rotate(-10 324.2 435.9)" stroke="#1a1470" stroke-width="1.1" fill="none"/>
<path d="M 324.2 429.7 L 331.2 427.3 L 335.0 425.8" stroke="#1a1470" stroke-width="1.1" fill="none"/>
<path d="M 327.3 442.2 L 335.0 439.8" stroke="#1a1470" stroke-width="1.1" fill="none"/>
<path d="M 304.7 446.9 L 321.9 439.8" stroke="#1a1470" stroke-width="1.1" fill="none"/>
<path d="M 302.3 461.7 L 321.1 440.9" stroke="#1a1470" stroke-width="1.1" fill="none"/>
<path d="M 268.0 458.6 C 268.8 450.0 275.0 440.9 282.8 440.9 C 290.6 442.2 298.4 456.2 300.8 478.1 L 301.6 481.6" stroke="#1a1470" stroke-width="1.1" fill="none"/>
<path d="M 287.5 443.8 C 290.6 454.7 290.6 465.6 292.2 473.4 C 295.3 484.4 301.6 489.1 303.1 492.2" stroke="#1a1470" stroke-width="1.1" fill="none"/>
<path d="M 267.2 459.4 L 287.5 454.1" stroke="#1a1470" stroke-width="1.1" fill="none"/>
<path d="M 272.7 473.4 C 276.6 487.5 284.4 500.0 293.8 506.2 C 300.0 509.4 304.7 507.8 306.2 504.7" stroke="#1a1470" stroke-width="1.1" fill="none"/>
<path d="M 295.3 500.0 C 300.0 498.4 303.1 495.3 303.9 491.4" stroke="#1a1470" stroke-width="1.1" fill="none"/>
<path d="M 260.2 460.2 L 266.4 461.7 L 267.2 498.4" stroke="#1a1470" stroke-width="1.1" fill="none"/>
<path d="M 260.2 460.2 L 260.2 492.2" stroke="#1a1470" stroke-width="1.1" fill="none"/>
<path d="M 252.3 478.1 L 260.2 475.0" stroke="#1a1470" stroke-width="1.1" fill="none"/>
<path d="M 252.3 478.1 L 253.1 489.1 L 260.2 493.8" stroke="#1a1470" stroke-width="1.1" fill="none"/>
<path d="M 237.5 462.5 L 237.5 497.7" stroke="#1a1470" stroke-width="1.1" fill="none"/>
<path d="M 246.1 473.4 L 246.1 502.3" stroke="#1a1470" stroke-width="1.1" fill="none"/>
<path d="M 232.8 464.1 L 240.6 460.2" stroke="#1a1470" stroke-width="1.1" fill="none"/>
<ellipse cx="235.2" cy="470.3" rx="1.9" ry="3.4" transform="rotate(-10 235.2 470.3)" stroke="#1a1470" stroke-width="1.1" fill="none"/>
<path d="M 251.6 450.0 L 267.2 458.6" stroke="#1a1470" stroke-width="1.1" fill="none"/>
<path d="M 266.4 497.7 L 268.8 503.1 L 271.9 504.7 L 272.7 509.4 L 276.6 510.9 L 281.2 514.1 C 287.5 520.3 296.9 525.0 304.7 525.0 L 307.8 523.4 L 309.4 528.1 L 312.5 535.9 L 318.8 537.5 L 321.9 534.4" stroke="#1a1470" stroke-width="1.1" fill="none"/>
<path d="M 313.3 525.0 L 314.1 531.2 L 320.3 535.9" stroke="#1a1470" stroke-width="1.1" fill="none"/>
<path d="M 307.0 492.2 L 307.8 525.0" stroke="#1a1470" stroke-width="1.1" fill="none"/>
<path d="M 309.4 490.6 L 316.4 493.8 L 318.8 500.0 L 322.7 550.0 L 335.0 562.5" stroke="#1a1470" stroke-width="1.1" fill="none"/>
<path d="M 306.2 478.9 L 321.9 489.8 L 325.0 487.5" stroke="#1a1470" stroke-width="1.1" fill="none"/>
<path d="M 290.6 515.6 L 303.1 516.4" stroke="#1a1470" stroke-width="1.1" fill="none"/>
<path d="M 317.2 453.1 L 318.8 476.6" stroke="#1a1470" stroke-width="1.1" fill="none"/>
<path d="M 312.5 451.6 L 318.0 453.1" stroke="#1a1470" stroke-width="1.1" fill="none"/>
<path d="M 335.0 453.1 C 329.7 462.5 328.1 475.0 328.9 484.4 C 331.2 493.8 332.8 496.9 335.0 498.4" stroke="#1a1470" stroke-width="1.1" fill="none"/>
<path d="M 325.0 484.4 C 327.3 487.5 328.1 493.8 327.3 500.0" stroke="#1a1470" stroke-width="1.1" fill="none"/>
<path d="M 329.7 545.3 C 331.2 543.8 333.6 543.0 335.0 543.0" stroke="#1a1470" stroke-width="1.1" fill="none"/>
<path d="M 335.0 240.2 L 495.0 190.9" stroke="#1a1470" stroke-width="1.1" fill="none"/>
<path d="M 335.0 247.2 L 380.3 234.4" stroke="#1a1470" stroke-width="1.1" fill="none"/>
<path d="M 387.3 232.3 L 393.6 230.3" stroke="#1a1470" stroke-width="1.1" fill="none"/>
<path d="M 398.3 228.1 L 449.8 213.6" stroke="#1a1470" stroke-width="1.1" fill="none"/>
<path d="M 456.9 211.2 L 462.3 209.7" stroke="#1a1470" stroke-width="1.1" fill="none"/>
<path d="M 468.6 207.3 L 495.0 199.1" stroke="#1a1470" stroke-width="1.1" fill="none"/>
<path d="M 385.8 235.0 C 389.7 245.6 394.4 258.1 397.5 263.6 C 400.6 267.5 402.2 270.6 401.9 276.9 C 403.8 289.4 410.0 298.8 416.2 305.8" stroke="#1a1470" stroke-width="1.1" fill="none"/>
<path d="M 398.3 228.1 L 422.5 287.8 L 428.8 302.2" stroke="#1a1470" stroke-width="1.1" fill="none"/>
<path d="M 455.3 213.6 L 468.6 242.5 C 470.9 247.2 471.9 250.3 471.7 255.0 C 472.5 264.4 478.8 276.9 485.3 285.0" stroke="#1a1470" stroke-width="1.1" fill="none"/>
<path d="M 469.1 207.8 L 495.0 273.4" stroke="#1a1470" stroke-width="1.1" fill="none"/>
<path d="M 335.0 262.0 C 341.2 250.3 355.3 242.5 366.2 244.1 C 372.5 245.6 376.4 248.8 378.8 251.9" stroke="#1a1470" stroke-width="1.1" fill="none"/>
<path d="M 405.3 240.2 C 413.1 228.4 427.2 220.6 438.1 223.0 C 444.4 225.3 448.3 228.4 450.6 230.8" stroke="#1a1470" stroke-width="1.1" fill="none"/>
<path d="M 475.6 220.6 C 480.3 211.2 488.1 205.8 495.0 203.4" stroke="#1a1470" stroke-width="1.1" fill="none"/>
<path d="M 394.4 264.4 C 390.5 266.7 392.0 275.3 388.9 279.2" stroke="#1a1470" stroke-width="1.1" fill="none"/>
<path d="M 463.9 242.5 C 460.0 245.6 462.3 253.4 457.7 258.1" stroke="#1a1470" stroke-width="1.1" fill="none"/>
<path d="M 351.4 301.1 C 363.1 295.6 377.2 291.7 388.9 290.2" stroke="#1a1470" stroke-width="1.1" fill="none"/>
<path d="M 421.7 280.0 C 433.4 273.8 447.5 270.6 458.4 269.4" stroke="#1a1470" stroke-width="1.1" fill="none"/>
<path d="M 335.0 267.5 L 358.4 323.0" stroke="#1a1470" stroke-width="1.1" fill="none"/>
<path d="M 335.0 305.0 L 342.8 325.3" stroke="#1a1470" stroke-width="1.1" fill="none"/>
<path d="M 339.7 326.9 C 341.2 327.8 344.4 327.2 346.7 326.2 L 358.4 323.0 L 495.0 281.6" stroke="#1a1470" stroke-width="1.1" fill="none"/>
<path d="M 428.8 280.0 L 435.0 294.8" stroke="#1a1470" stroke-width="1.1" fill="none"/>
<ellipse cx="453.0" cy="290.2" rx="8.6" ry="3.4" transform="rotate(-15 453.0 290.2)" stroke="#1a1470" stroke-width="1.1" fill="none"/>
<ellipse cx="453.0" cy="290.2" rx="4.7" ry="1.7" transform="rotate(-15 453.0 290.2)" stroke="#1a1470" stroke-width="1.1" fill="none"/>
<path d="M 433.4 298.0 C 435.0 294.8 444.4 294.1 449.1 296.4" stroke="#1a1470" stroke-width="1.1" fill="none"/>
<ellipse cx="441.2" cy="297.5" rx="3.4" ry="1.2" transform="rotate(-15 441.2 297.5)" stroke="#1a1470" stroke-width="1.1" fill="none"/>
<path d="M 374.1 337.8 L 370.9 326.9 L 421.7 311.2" stroke="#1a1470" stroke-width="1.1" fill="none"/>
<path d="M 442.0 305.0 L 495.0 290.6" stroke="#1a1470" stroke-width="1.1" fill="none"/>
<ellipse cx="435.8" cy="318.3" rx="5.5" ry="5.6" transform="rotate(0 435.8 318.3)" stroke="#1a1470" stroke-width="1.1" fill="none"/>
<ellipse cx="364.7" cy="339.4" rx="5.5" ry="5.6" transform="rotate(0 364.7 339.4)" stroke="#1a1470" stroke-width="1.1" fill="none"/>
<path d="M 442.0 305.0 L 441.2 308.1 L 444.4 317.5 L 443.1 326.9 L 438.1 332.3 L 444.4 339.4 L 447.2 325.3 L 453.8 317.5" stroke="#1a1470" stroke-width="1.1" fill="none"/>
<path d="M 435.0 330.0 L 438.1 332.3" stroke="#1a1470" stroke-width="1.1" fill="none"/>
<path d="M 374.1 337.8 L 364.7 356.6" stroke="#1a1470" stroke-width="1.1" fill="none"/>
<path d="M 365.5 351.9 L 380.3 340.9" stroke="#1a1470" stroke-width="1.1" fill="none"/>
<path d="M 341.2 345.6 L 353.0 341.7 L 358.4 355.0 L 348.3 360.5 Z" stroke="#1a1470" stroke-width="1.1" fill="none"/>
<path d="M 352.2 367.5 L 358.4 365.2" stroke="#1a1470" stroke-width="1.1" fill="none"/>
<path d="M 352.2 367.5 L 356.9 380.0" stroke="#1a1470" stroke-width="1.1" fill="none"/>
<path d="M 335.8 355.0 L 338.1 364.4" stroke="#1a1470" stroke-width="1.1" fill="none"/>
<ellipse cx="340.5" cy="373.8" rx="1.6" ry="3.1" transform="rotate(-15 340.5 373.8)" stroke="#1a1470" stroke-width="1.1" fill="none"/>
<path d="M436.3,404.9 L434.8,405.7 L433.2,406.3 L431.6,406.9 L429.9,407.3 L428.2,407.7 L426.5,407.9 L424.7,408.1 L423.0,408.1 L421.2,408.0 L419.4,407.9 L417.5,407.6 L415.7,407.2 L413.9,406.7 L412.1,406.1 L410.3,405.4 L408.6,404.6 L406.8,403.7 L405.1,402.7 L403.4,401.6 L401.8,400.5 L400.2,399.2 L398.6,397.9 L397.1,396.5 L395.7,395.0 L394.3,393.4 L392.9,391.8 L391.7,390.1 L390.5,388.3 L389.4,386.6 L388.3,384.7 L387.3,382.8 L386.5,380.9 L385.7,378.9 L384.9,376.9 L384.3,374.9 L383.8,372.9 L383.3,370.9 L383.0,368.8 L382.7,366.8 L382.6,364.8 L382.5,362.8 L382.5,360.8 L382.6,358.8 L382.8,356.8 L383.1,354.9 L383.5,353.0 L384.0,351.2 L384.6,349.4 L385.3,347.7 L386.1,346.0 L386.9,344.4 L387.8,342.9 L388.8,341.4 L389.9,340.0 L391.1,338.7 L392.3,337.5 L393.6,336.4 L395.0,335.3 L396.4,334.4 L397.9,333.5 L399.4,332.7 L401.0,332.1 L402.6,331.5 L404.3,331.1 L406.0,330.7 L407.7,330.5 L409.5,330.3 L411.2,330.3 L413.0,330.4 L414.8,330.5 L416.7,330.8 L418.5,331.2 L420.3,331.7 L422.1,332.3 L423.9,333.0 L425.6,333.8 L427.4,334.7 L429.1,335.7 L430.8,336.8 L432.4,337.9 L434.0,339.2 L435.6,340.5 L437.1,341.9 L438.5,343.4 L439.9,345.0 L441.3,346.6 L442.5,348.3 L443.7,350.1 L444.8,351.8 L445.9,353.7 L446.9,355.6 L447.7,357.5 L448.5,359.5 L449.3,361.5 L449.9,363.5 L450.4,365.5 L450.9,367.5 L451.2,369.6 L451.5,371.6 L451.6,373.6 L451.7,375.6 L451.7,377.6 L451.6,379.6 L451.4,381.6 L451.1,383.5 L450.7,385.4 L450.2,387.2 L449.6,389.0 L448.9,390.7 L448.1,392.4 L447.3,394.0 L446.4,395.5 L445.4,397.0 L444.3,398.4 L443.1,399.7 L441.9,400.9 L440.6,402.0 L439.2,403.1 L437.8,404.0 L436.3,404.9" stroke="#1a1470" stroke-width="1.1" fill="none"/>
<path d="M439.7,411.2 L438.5,411.9 L437.2,412.5 L435.9,413.0 L434.6,413.5 L433.3,413.9 L431.9,414.3 L430.6,414.6 L429.2,414.8 L427.8,415.0 L426.4,415.2 L424.9,415.3 L423.5,415.3 L422.0,415.3 L420.6,415.2 L419.1,415.1 L417.7,414.9 L416.2,414.6 L414.8,414.3 L413.3,414.0 L411.9,413.6 L410.4,413.1 L409.0,412.6 L407.6,412.0 L406.1,411.4 L404.7,410.7 L403.4,410.0 L402.0,409.2 L400.6,408.4 L399.3,407.5 L398.0,406.6 L396.7,405.6 L395.4,404.6 L394.2,403.6 L393.0,402.5 L391.8,401.4 L390.7,400.2 L389.6,399.0 L388.5,397.7 L387.4,396.4 L386.4,395.1 L385.5,393.8 L384.5,392.4 L383.6,391.0 L382.8,389.6 L382.0,388.1 L381.2,386.6 L380.5,385.1 L379.8,383.6 L379.2,382.1 L378.6,380.5 L378.0,379.0 L377.5,377.4 L377.1,375.8 L376.7,374.2 L376.3,372.6 L376.0,371.0 L375.8,369.4 L375.6,367.8 L375.5,366.2 L375.4,364.6 L375.3,363.0 L375.3,361.4 L375.4,359.8 L375.5,358.2 L375.6,356.7 L375.8,355.1 L376.1,353.6 L376.4,352.1 L376.8,350.6 L377.2,349.2 L377.6,347.7 L378.1,346.3 L378.7,344.9 L379.3,343.6 L379.9,342.2 L380.6,341.0 L381.4,339.7 L382.1,338.5 L383.0,337.3 L383.8,336.2 L384.7,335.1 L385.7,334.0 L386.6,333.0 L387.7,332.0 L388.7,331.1 L389.8,330.2 L390.9,329.4 L392.1,328.6 L393.3,327.8 L394.5,327.2 L395.7,326.5 L397.0,325.9 L398.3,325.4 L399.6,324.9 L400.9,324.5 L402.3,324.1 L403.6,323.8 L405.0,323.6 L406.4,323.4 L407.8,323.2 L409.3,323.1 L410.7,323.1 L412.2,323.1 L413.6,323.2 L415.1,323.3 L416.5,323.5 L418.0,323.8 L419.4,324.1 L420.9,324.4 L422.3,324.8 L423.8,325.3 L425.2,325.8 L426.6,326.4 L428.1,327.0 L429.5,327.7 L430.8,328.4 L432.2,329.2 L433.6,330.0 L434.9,330.9 L436.2,331.8 L437.5,332.8 L438.8,333.8 L440.0,334.8 L441.2,335.9 L442.4,337.0 L443.5,338.2" stroke="#1a1470" stroke-width="1.1" fill="none"/>
<path d="M458.7,380.2 L458.6,381.7 L458.4,383.3 L458.1,384.8 L457.8,386.3 L457.4,387.8 L457.0,389.2 L456.6,390.7 L456.1,392.1 L455.5,393.5 L454.9,394.8 L454.3,396.2 L453.6,397.4 L452.8,398.7 L452.1,399.9 L451.2,401.1 L450.4,402.2 L449.5,403.3 L448.5,404.4 L447.6,405.4 L446.5,406.4 L445.5,407.3 L444.4,408.2 L443.3,409.0 L442.1,409.8 L440.9,410.6 L439.7,411.2" stroke="#1a1470" stroke-width="1.1" fill="none"/>
<path d="M505.6,384.6 L504.1,385.4 L502.5,386.0 L500.9,386.6 L499.2,387.0 L497.5,387.4 L495.8,387.6 L494.0,387.8 L492.3,387.8 L490.5,387.7 L488.7,387.6 L486.8,387.3 L485.0,386.9 L483.2,386.4 L481.4,385.8 L479.6,385.1 L477.9,384.3 L476.1,383.4 L474.4,382.4 L472.7,381.3 L471.1,380.2 L469.5,378.9 L467.9,377.6 L466.4,376.2 L465.0,374.7 L463.6,373.1 L462.2,371.5 L461.0,369.8 L459.8,368.0 L458.7,366.3 L457.6,364.4 L456.6,362.5 L455.8,360.6 L455.0,358.6 L454.2,356.6 L453.6,354.6 L453.1,352.6 L452.6,350.6 L452.3,348.5 L452.0,346.5 L451.9,344.5 L451.8,342.5 L451.8,340.5 L451.9,338.5 L452.1,336.5 L452.4,334.6 L452.8,332.7 L453.3,330.9 L453.9,329.1 L454.6,327.4 L455.4,325.7 L456.2,324.1 L457.1,322.6 L458.1,321.1 L459.2,319.7 L460.4,318.4 L461.6,317.2 L462.9,316.1 L464.3,315.0 L465.7,314.1 L467.2,313.2 L468.7,312.4 L470.3,311.8 L471.9,311.2 L473.6,310.8 L475.3,310.4 L477.0,310.2 L478.8,310.0 L480.5,310.0 L482.3,310.1 L484.1,310.2 L486.0,310.5 L487.8,310.9 L489.6,311.4 L491.4,312.0 L493.2,312.7 L494.9,313.5 L496.7,314.4 L498.4,315.4 L500.1,316.5 L501.7,317.6 L503.3,318.9 L504.9,320.2 L506.4,321.6 L507.8,323.1 L509.2,324.7 L510.6,326.3 L511.8,328.0 L513.0,329.8 L514.1,331.5 L515.2,333.4 L516.2,335.3 L517.0,337.2 L517.8,339.2 L518.6,341.2 L519.2,343.2 L519.7,345.2 L520.2,347.2 L520.5,349.3 L520.8,351.3 L520.9,353.3 L521.0,355.3 L521.0,357.3 L520.9,359.3 L520.7,361.3 L520.4,363.2 L520.0,365.1 L519.5,366.9 L518.9,368.7 L518.2,370.4 L517.4,372.1 L516.6,373.7 L515.7,375.2 L514.7,376.7 L513.6,378.1 L512.4,379.4 L511.2,380.6 L509.9,381.7 L508.5,382.8 L507.1,383.7 L505.6,384.6" stroke="#1a1470" stroke-width="1.1" fill="none"/>
<path d="M509.0,390.9 L507.8,391.6 L506.5,392.2 L505.2,392.7 L503.9,393.2 L502.6,393.6 L501.2,394.0 L499.9,394.3 L498.5,394.5 L497.1,394.7 L495.7,394.9 L494.2,395.0 L492.8,395.0 L491.3,395.0 L489.9,394.9 L488.4,394.8 L487.0,394.6 L485.5,394.3 L484.1,394.0 L482.6,393.7 L481.2,393.3 L479.7,392.8 L478.3,392.3 L476.9,391.7 L475.4,391.1 L474.0,390.4 L472.7,389.7 L471.3,388.9 L469.9,388.1 L468.6,387.2 L467.3,386.3 L466.0,385.3 L464.7,384.3 L463.5,383.3 L462.3,382.2 L461.1,381.1 L460.0,379.9" stroke="#1a1470" stroke-width="1.1" fill="none"/>
<path d="M444.8,337.9 L444.9,336.4 L445.1,334.8 L445.4,333.3 L445.7,331.8 L446.1,330.3 L446.5,328.9 L446.9,327.4 L447.4,326.0 L448.0,324.6 L448.6,323.3 L449.2,321.9 L449.9,320.7 L450.7,319.4 L451.4,318.2 L452.3,317.0 L453.1,315.9 L454.0,314.8 L455.0,313.7 L455.9,312.7 L457.0,311.7 L458.0,310.8 L459.1,309.9 L460.2,309.1 L461.4,308.3 L462.6,307.5 L463.8,306.9 L465.0,306.2 L466.3,305.6 L467.6,305.1 L468.9,304.6 L470.2,304.2 L471.6,303.8 L472.9,303.5 L474.3,303.3 L475.7,303.1 L477.1,302.9 L478.6,302.8 L480.0,302.8 L481.5,302.8 L482.9,302.9 L484.4,303.0 L485.8,303.2 L487.3,303.5 L488.7,303.8 L490.2,304.1 L491.6,304.5 L493.1,305.0 L494.5,305.5 L495.9,306.1 L497.4,306.7 L498.8,307.4 L500.1,308.1 L501.5,308.9 L502.9,309.7 L504.2,310.6 L505.5,311.5 L506.8,312.5 L508.1,313.5 L509.3,314.5 L510.5,315.6 L511.7,316.7 L512.8,317.9 L513.9,319.1" stroke="#1a1470" stroke-width="1.1" fill="none"/>
<path d="M528.2,356.7 L528.1,358.3 L528.0,359.9 L527.9,361.4 L527.7,363.0 L527.4,364.5 L527.1,366.0 L526.7,367.5 L526.3,368.9 L525.9,370.4 L525.4,371.8 L524.8,373.2 L524.2,374.5 L523.6,375.9 L522.9,377.1 L522.1,378.4 L521.4,379.6 L520.5,380.8 L519.7,381.9 L518.8,383.0 L517.8,384.1 L516.9,385.1 L515.8,386.1 L514.8,387.0 L513.7,387.9 L512.6,388.7 L511.4,389.5 L510.2,390.3 L509.0,390.9" stroke="#1a1470" stroke-width="1.1" fill="none"/>
<path d="M576.2,363.1 L574.7,363.9 L573.1,364.5 L571.5,365.1 L569.8,365.5 L568.1,365.9 L566.4,366.1 L564.6,366.3 L562.9,366.3 L561.1,366.2 L559.3,366.1 L557.4,365.8 L555.6,365.4 L553.8,364.9 L552.0,364.3 L550.2,363.6 L548.5,362.8 L546.7,361.9 L545.0,360.9 L543.3,359.8 L541.7,358.7 L540.1,357.4 L538.5,356.1 L537.0,354.7 L535.6,353.2 L534.2,351.6 L532.8,350.0 L531.6,348.3 L530.4,346.5 L529.3,344.8 L528.2,342.9 L527.2,341.0 L526.4,339.1 L525.6,337.1 L524.8,335.1 L524.2,333.1 L523.7,331.1 L523.2,329.1 L522.9,327.0 L522.6,325.0 L522.5,323.0 L522.4,321.0 L522.4,319.0 L522.5,317.0 L522.7,315.0 L523.0,313.1 L523.4,311.2 L523.9,309.4 L524.5,307.6 L525.2,305.9 L526.0,304.2 L526.8,302.6 L527.7,301.1 L528.7,299.6 L529.8,298.2 L531.0,296.9 L532.2,295.7 L533.5,294.6 L534.9,293.5 L536.3,292.6 L537.8,291.7 L539.3,290.9 L540.9,290.3 L542.5,289.7 L544.2,289.3 L545.9,288.9 L547.6,288.7 L549.4,288.5 L551.1,288.5 L552.9,288.6 L554.7,288.7 L556.6,289.0 L558.4,289.4 L560.2,289.9 L562.0,290.5 L563.8,291.2 L565.5,292.0 L567.3,292.9 L569.0,293.9 L570.7,295.0 L572.3,296.1 L573.9,297.4 L575.5,298.7 L577.0,300.1 L578.4,301.6 L579.8,303.2 L581.2,304.8 L582.4,306.5 L583.6,308.3 L584.7,310.0 L585.8,311.9 L586.8,313.8 L587.6,315.7 L588.4,317.7 L589.2,319.7 L589.8,321.7 L590.3,323.7 L590.8,325.7 L591.1,327.8 L591.4,329.8 L591.5,331.8 L591.6,333.8 L591.6,335.8 L591.5,337.8 L591.3,339.8 L591.0,341.7 L590.6,343.6 L590.1,345.4 L589.5,347.2 L588.8,348.9 L588.0,350.6 L587.2,352.2 L586.3,353.7 L585.3,355.2 L584.2,356.6 L583.0,357.9 L581.8,359.1 L580.5,360.2 L579.1,361.3 L577.7,362.2 L576.2,363.1" stroke="#1a1470" stroke-width="1.1" fill="none"/>
<path d="M579.6,369.4 L578.4,370.1 L577.1,370.7 L575.8,371.2 L574.5,371.7 L573.2,372.1 L571.8,372.5 L570.5,372.8 L569.1,373.0 L567.7,373.2 L566.3,373.4 L564.8,373.5 L563.4,373.5 L561.9,373.5 L560.5,373.4 L559.0,373.3 L557.6,373.1 L556.1,372.8 L554.7,372.5 L553.2,372.2 L551.8,371.8 L550.3,371.3 L548.9,370.8 L547.5,370.2 L546.0,369.6 L544.6,368.9 L543.3,368.2 L541.9,367.4 L540.5,366.6 L539.2,365.7 L537.9,364.8 L536.6,363.8 L535.3,362.8 L534.1,361.8 L532.9,360.7 L531.7,359.6 L530.6,358.4 L529.5,357.2" stroke="#1a1470" stroke-width="1.1" fill="none"/>
<path d="M515.2,319.6 L515.3,318.0 L515.4,316.4 L515.5,314.9 L515.7,313.3 L516.0,311.8 L516.3,310.3 L516.7,308.8 L517.1,307.4 L517.5,305.9 L518.0,304.5 L518.6,303.1 L519.2,301.8 L519.8,300.4 L520.5,299.2 L521.3,297.9 L522.0,296.7 L522.9,295.5 L523.7,294.4 L524.6,293.3 L525.6,292.2 L526.5,291.2 L527.6,290.2 L528.6,289.3 L529.7,288.4 L530.8,287.6 L532.0,286.8 L533.2,286.0 L534.4,285.4 L535.6,284.7 L536.9,284.1 L538.2,283.6 L539.5,283.1 L540.8,282.7 L542.2,282.3 L543.5,282.0 L544.9,281.8 L546.3,281.6 L547.7,281.4 L549.2,281.3 L550.6,281.3 L552.1,281.3 L553.5,281.4 L555.0,281.5 L556.4,281.7 L557.9,282.0 L559.3,282.3 L560.8,282.6 L562.2,283.0 L563.7,283.5 L565.1,284.0 L566.5,284.6 L568.0,285.2 L569.4,285.9 L570.7,286.6 L572.1,287.4 L573.5,288.2 L574.8,289.1 L576.1,290.0 L577.4,291.0 L578.7,292.0 L579.9,293.0 L581.1,294.1 L582.3,295.2 L583.4,296.4 L584.5,297.6" stroke="#1a1470" stroke-width="1.1" fill="none"/>
<path d="M598.7,336.8 L598.6,338.4 L598.5,339.9 L598.3,341.5 L598.0,343.0 L597.7,344.5 L597.3,346.0 L596.9,347.4 L596.5,348.9 L596.0,350.3 L595.4,351.7 L594.8,353.0 L594.2,354.4 L593.5,355.6 L592.7,356.9 L592.0,358.1 L591.1,359.3 L590.3,360.4 L589.4,361.5 L588.4,362.6 L587.5,363.6 L586.4,364.6 L585.4,365.5 L584.3,366.4 L583.2,367.2 L582.0,368.0 L580.8,368.8 L579.6,369.4" stroke="#1a1470" stroke-width="1.1" fill="none"/>
<path d="M645.9,342.1 L644.4,342.9 L642.8,343.5 L641.2,344.1 L639.5,344.5 L637.8,344.9 L636.1,345.1 L634.3,345.3 L632.6,345.3 L630.8,345.2 L629.0,345.1 L627.1,344.8 L625.3,344.4 L623.5,343.9 L621.7,343.3 L619.9,342.6 L618.2,341.8 L616.4,340.9 L614.7,339.9 L613.0,338.8 L611.4,337.7 L609.8,336.4 L608.2,335.1 L606.7,333.7 L605.3,332.2 L603.9,330.6 L602.5,329.0 L601.3,327.3 L600.1,325.5 L599.0,323.8 L597.9,321.9 L596.9,320.0 L596.1,318.1 L595.3,316.1 L594.5,314.1 L593.9,312.1 L593.4,310.1 L592.9,308.1 L592.6,306.0 L592.3,304.0 L592.2,302.0 L592.1,300.0 L592.1,298.0 L592.2,296.0 L592.4,294.0 L592.7,292.1 L593.1,290.2 L593.6,288.4 L594.2,286.6 L594.9,284.9 L595.7,283.2 L596.5,281.6 L597.4,280.1 L598.4,278.6 L599.5,277.2 L600.7,275.9 L601.9,274.7 L603.2,273.6 L604.6,272.5 L606.0,271.6 L607.5,270.7 L609.0,269.9 L610.6,269.3 L612.2,268.7 L613.9,268.3 L615.6,267.9 L617.3,267.7 L619.1,267.5 L620.8,267.5 L622.6,267.6 L624.4,267.7 L626.3,268.0 L628.1,268.4 L629.9,268.9 L631.7,269.5 L633.5,270.2 L635.2,271.0 L637.0,271.9 L638.7,272.9 L640.4,274.0 L642.0,275.1 L643.6,276.4 L645.2,277.7 L646.7,279.1 L648.1,280.6 L649.5,282.2 L650.9,283.8 L652.1,285.5 L653.3,287.3 L654.4,289.0 L655.5,290.9 L656.5,292.8 L657.3,294.7 L658.1,296.7 L658.9,298.7 L659.5,300.7 L660.0,302.7 L660.5,304.7 L660.8,306.8 L661.1,308.8 L661.2,310.8 L661.3,312.8 L661.3,314.8 L661.2,316.8 L661.0,318.8 L660.7,320.7 L660.3,322.6 L659.8,324.4 L659.2,326.2 L658.5,327.9 L657.7,329.6 L656.9,331.2 L656.0,332.7 L655.0,334.2 L653.9,335.6 L652.7,336.9 L651.5,338.1 L650.2,339.2 L648.8,340.3 L647.4,341.2 L645.9,342.1" stroke="#1a1470" stroke-width="1.1" fill="none"/>
<path d="M649.3,348.4 L648.1,349.1 L646.8,349.7 L645.5,350.2 L644.2,350.7 L642.9,351.1 L641.5,351.5 L640.2,351.8 L638.8,352.0 L637.4,352.2 L636.0,352.4 L634.5,352.5 L633.1,352.5 L631.6,352.5 L630.2,352.4 L628.7,352.3 L627.3,352.1 L625.8,351.8 L624.4,351.5 L622.9,351.2 L621.5,350.8 L620.0,350.3 L618.6,349.8 L617.2,349.2 L615.7,348.6 L614.3,347.9 L613.0,347.2 L611.6,346.4 L610.2,345.6 L608.9,344.7 L607.6,343.8 L606.3,342.8 L605.0,341.8 L603.8,340.8 L602.6,339.7 L601.4,338.6 L600.3,337.4 L599.2,336.2" stroke="#1a1470" stroke-width="1.1" fill="none"/>
<path d="M585.0,297.0 L585.1,295.4 L585.2,293.9 L585.4,292.3 L585.7,290.8 L586.0,289.3 L586.4,287.8 L586.8,286.4 L587.2,284.9 L587.7,283.5 L588.3,282.1 L588.9,280.8 L589.5,279.4 L590.2,278.2 L591.0,276.9 L591.7,275.7 L592.6,274.5 L593.4,273.4 L594.3,272.3 L595.3,271.2 L596.2,270.2 L597.3,269.2 L598.3,268.3 L599.4,267.4 L600.5,266.6 L601.7,265.8 L602.9,265.0 L604.1,264.4 L605.3,263.7 L606.6,263.1 L607.9,262.6 L609.2,262.1 L610.5,261.7 L611.9,261.3 L613.2,261.0 L614.6,260.8 L616.0,260.6 L617.4,260.4 L618.9,260.3 L620.3,260.3 L621.8,260.3 L623.2,260.4 L624.7,260.5 L626.1,260.7 L627.6,261.0 L629.0,261.3 L630.5,261.6 L631.9,262.0 L633.4,262.5 L634.8,263.0 L636.2,263.6 L637.7,264.2 L639.1,264.9 L640.4,265.6 L641.8,266.4 L643.2,267.2 L644.5,268.1 L645.8,269.0 L647.1,270.0 L648.4,271.0 L649.6,272.0 L650.8,273.1 L652.0,274.2 L653.1,275.4 L654.2,276.6 L655.3,277.9 L656.4,279.2 L657.4,280.5 L658.3,281.8 L659.3,283.2 L660.2,284.6 L661.0,286.0 L661.8,287.5 L662.6,289.0 L663.3,290.5 L664.0,292.0 L664.6,293.5 L665.2,295.1 L665.8,296.6 L666.3,298.2 L666.7,299.8 L667.1,301.4 L667.5,303.0 L667.8,304.6 L668.0,306.2 L668.2,307.8 L668.3,309.4 L668.4,311.0 L668.5,312.6 L668.5,314.2 L668.4,315.8 L668.3,317.4 L668.2,318.9 L668.0,320.5 L667.7,322.0 L667.4,323.5 L667.0,325.0 L666.6,326.4 L666.2,327.9 L665.7,329.3 L665.1,330.7 L664.5,332.0 L663.9,333.4 L663.2,334.6 L662.4,335.9 L661.7,337.1 L660.8,338.3 L660.0,339.4 L659.1,340.5 L658.1,341.6 L657.2,342.6 L656.1,343.6 L655.1,344.5 L654.0,345.4 L652.9,346.2 L651.7,347.0 L650.5,347.8 L649.3,348.4" stroke="#1a1470" stroke-width="1.1" fill="none"/>
<path d="M 495.0 190.9 L 556.2 172.5 L 559.1 172.8 L 561.4 178.4" stroke="#1a1470" stroke-width="1.1" fill="none"/>
<path d="M 495.0 199.2 L 520.0 191.9" stroke="#1a1470" stroke-width="1.1" fill="none"/>
<path d="M 527.0 189.1 L 533.3 187.5" stroke="#1a1470" stroke-width="1.1" fill="none"/>
<path d="M 539.5 185.6 L 559.8 179.7" stroke="#1a1470" stroke-width="1.1" fill="none"/>
<ellipse cx="566.1" cy="178.9" rx="5.0" ry="2.2" transform="rotate(0 566.1 178.9)" stroke="#1a1470" stroke-width="1.1" fill="none"/>
<ellipse cx="566.1" cy="178.9" rx="3.1" ry="1.2" transform="rotate(0 566.1 178.9)" stroke="#1a1470" stroke-width="1.1" fill="none"/>
<path d="M 561.1 179.1 L 561.4 185.2" stroke="#1a1470" stroke-width="1.1" fill="none"/>
<path d="M 571.2 179.1 L 571.6 184.1" stroke="#1a1470" stroke-width="1.1" fill="none"/>
<ellipse cx="554.4" cy="200.3" rx="5.5" ry="2.2" transform="rotate(0 554.4 200.3)" stroke="#1a1470" stroke-width="1.1" fill="none"/>
<ellipse cx="554.4" cy="200.3" rx="3.4" ry="1.2" transform="rotate(0 554.4 200.3)" stroke="#1a1470" stroke-width="1.1" fill="none"/>
<path d="M 548.9 200.6 L 548.9 207.8" stroke="#1a1470" stroke-width="1.1" fill="none"/>
<path d="M 559.8 200.6 L 560.3 205.0" stroke="#1a1470" stroke-width="1.1" fill="none"/>
<ellipse cx="606.7" cy="195.6" rx="5.9" ry="2.2" transform="rotate(0 606.7 195.6)" stroke="#1a1470" stroke-width="1.1" fill="none"/>
<ellipse cx="606.7" cy="195.6" rx="3.8" ry="1.2" transform="rotate(0 606.7 195.6)" stroke="#1a1470" stroke-width="1.1" fill="none"/>
<path d="M 600.8 195.9 L 600.5 207.0" stroke="#1a1470" stroke-width="1.1" fill="none"/>
<path d="M 612.5 195.9 L 614.5 199.2" stroke="#1a1470" stroke-width="1.1" fill="none"/>
<path d="M 571.6 183.6 L 598.1 198.4" stroke="#1a1470" stroke-width="1.1" fill="none"/>
<path d="M 558.3 185.9 L 567.7 205.5 L 576.2 205.5" stroke="#1a1470" stroke-width="1.1" fill="none"/>
<path d="M 561.4 204.7 L 568.4 206.2 L 582.5 204.7 C 588.8 201.2 595.0 201.2 596.6 203.9" stroke="#1a1470" stroke-width="1.1" fill="none"/>
<path d="M 614.5 199.2 C 627.8 203.1 643.4 212.5 655.0 222.2" stroke="#1a1470" stroke-width="1.1" fill="none"/>
<path d="M 525.5 192.2 L 536.4 221.1 C 540.3 225.0 541.6 228.1 541.6 232.8 C 543.4 243.8 551.2 256.2 556.7 262.5" stroke="#1a1470" stroke-width="1.1" fill="none"/>
<path d="M 539.5 185.9 L 548.9 207.8 L 568.4 258.1" stroke="#1a1470" stroke-width="1.1" fill="none"/>
<path d="M 495.0 203.1 C 504.4 200.8 512.2 203.1 520.0 209.4" stroke="#1a1470" stroke-width="1.1" fill="none"/>
<path d="M 534.1 221.1 C 529.4 225.0 531.7 232.8 528.6 235.9" stroke="#1a1470" stroke-width="1.1" fill="none"/>
<path d="M 495.0 258.6 C 505.9 253.9 518.4 250.0 529.4 248.8" stroke="#1a1470" stroke-width="1.1" fill="none"/>
<path d="M 495.0 281.6 L 649.7 235.6 L 655.0 243.8" stroke="#1a1470" stroke-width="1.1" fill="none"/>
<path d="M 495.0 273.4 L 498.1 280.6" stroke="#1a1470" stroke-width="1.1" fill="none"/>
<path d="M 569.2 230.5 L 576.2 228.9 L 579.4 225.0 L 595.0 219.5 L 610.6 225.0 C 611.4 218.8 613.8 214.1 621.6 212.5" stroke="#1a1470" stroke-width="1.1" fill="none"/>
<path d="M 579.4 226.6 L 595.0 231.2" stroke="#1a1470" stroke-width="1.1" fill="none"/>
<path d="M 596.6 235.2 C 602.8 239.1 607.5 242.2 609.8 245.3" stroke="#1a1470" stroke-width="1.1" fill="none"/>
<ellipse cx="622.8" cy="218.0" rx="6.2" ry="2.8" transform="rotate(-8 622.8 218.0)" stroke="#1a1470" stroke-width="1.1" fill="none"/>
<path d="M 619.2 224.2 L 619.2 234.4" stroke="#1a1470" stroke-width="1.1" fill="none"/>
<path d="M 634.1 221.9 L 622.3 235.2" stroke="#1a1470" stroke-width="1.1" fill="none"/>
<path d="M 512.2 284.4 L 559.8 270.0" stroke="#1a1470" stroke-width="1.1" fill="none"/>
<path d="M 581.7 262.8 L 630.9 248.4" stroke="#1a1470" stroke-width="1.1" fill="none"/>
<ellipse cx="575.5" cy="275.3" rx="5.2" ry="5.5" transform="rotate(0 575.5 275.3)" stroke="#1a1470" stroke-width="1.1" fill="none"/>
<ellipse cx="505.6" cy="296.9" rx="5.3" ry="5.6" transform="rotate(0 505.6 296.9)" stroke="#1a1470" stroke-width="1.1" fill="none"/>
<ellipse cx="645.8" cy="254.4" rx="5.5" ry="5.8" transform="rotate(0 645.8 254.4)" stroke="#1a1470" stroke-width="1.1" fill="none"/>
<path d="M 581.7 262.8 L 580.9 265.6 L 584.4 275.0 L 583.3 282.8 L 579.4 289.1 L 584.8 296.9 L 588.0 282.8 L 595.0 273.4" stroke="#1a1470" stroke-width="1.1" fill="none"/>
<path d="M 574.7 286.7 L 579.4 289.1" stroke="#1a1470" stroke-width="1.1" fill="none"/>
<path d="M 512.2 284.4 L 511.4 287.5 L 514.5 296.9 L 513.4 304.7 L 509.1 310.9 L 515.0 320.3 L 516.9 306.2 L 520.8 298.4" stroke="#1a1470" stroke-width="1.1" fill="none"/>
<path d="M 504.4 307.8 L 509.1 310.9" stroke="#1a1470" stroke-width="1.1" fill="none"/>
<path d="M 643.4 265.6 L 651.2 264.8 L 647.3 271.1" stroke="#1a1470" stroke-width="1.1" fill="none"/>
<path d="M 650.0 235.5 L 654.7 241.7 L 700.0 353.4" stroke="#1a1470" stroke-width="1.1" fill="none"/>
<path d="M 646.9 267.0 L 653.9 262.8 L 658.6 265.2 L 681.2 321.4 L 680.5 325.3 L 673.4 326.6 L 671.1 330.0" stroke="#1a1470" stroke-width="1.1" fill="none"/>
<path d="M 653.9 243.3 L 674.2 248.4 C 668.8 255.0 665.6 261.2 664.8 269.1" stroke="#1a1470" stroke-width="1.1" fill="none"/>
<path d="M 679.7 283.9 L 685.9 305.0" stroke="#1a1470" stroke-width="1.1" fill="none"/>
<path d="M 682.0 306.6 L 690.6 304.7 C 694.1 309.7 692.5 317.5 688.3 323.0" stroke="#1a1470" stroke-width="1.1" fill="none"/>
<path d="M 655.0 222.2 L 661.7 230.0 C 675.0 244.1 687.5 265.9 696.9 289.4 C 706.2 314.4 715.6 355.0 718.8 386.2 C 721.1 401.9 722.7 417.5 723.4 430.0" stroke="#1a1470" stroke-width="1.1" fill="none"/>
<path d="M 693.0 331.6 L 702.3 337.8 L 703.1 351.1 L 699.2 352.7" stroke="#1a1470" stroke-width="1.1" fill="none"/>
<path d="M 702.3 342.5 L 710.9 340.6" stroke="#1a1470" stroke-width="1.1" fill="none"/>
<ellipse cx="645.8" cy="254.2" rx="5.6" ry="5.9" transform="rotate(0 645.8 254.2)" stroke="#1a1470" stroke-width="1.1" fill="none"/>
<path d="M 645.3 267.0 L 651.6 265.3 L 648.4 270.9" stroke="#1a1470" stroke-width="1.1" fill="none"/>
<ellipse cx="678.9" cy="337.0" rx="5.9" ry="7.2" transform="rotate(-30 678.9 337.0)" stroke="#1a1470" stroke-width="1.1" fill="none"/>
<path d="M 676.6 332.3 C 681.2 331.6 683.6 337.8 681.2 341.7" stroke="#1a1470" stroke-width="1.1" fill="none"/>
<ellipse cx="669.5" cy="352.7" rx="6.2" ry="5.0" transform="rotate(-15 669.5 352.7)" stroke="#1a1470" stroke-width="1.1" fill="none"/>
<path d="M 665.6 351.1 C 668.8 348.8 673.4 350.3 673.4 354.2" stroke="#1a1470" stroke-width="1.1" fill="none"/>
<path d="M 600.0 383.9 L 696.9 356.9 L 700.0 353.4" stroke="#1a1470" stroke-width="1.1" fill="none"/>
<path d="M 610.2 390.9 L 668.8 367.8" stroke="#1a1470" stroke-width="1.1" fill="none"/>
<path d="M 647.7 355.8 L 654.7 348.0" stroke="#1a1470" stroke-width="1.1" fill="none"/>
<path d="M 654.7 353.4 L 659.4 349.5" stroke="#1a1470" stroke-width="1.1" fill="none"/>
<path d="M 687.5 369.8 L 702.3 365.9 L 703.1 376.1 L 695.3 378.4 L 687.5 379.2 Z" stroke="#1a1470" stroke-width="1.1" fill="none"/>
<path d="M 681.2 367.5 L 677.3 374.5 L 687.5 379.2" stroke="#1a1470" stroke-width="1.1" fill="none"/>
<path d="M 687.5 379.2 L 688.3 389.4 L 690.6 390.2 L 690.6 383.9" stroke="#1a1470" stroke-width="1.1" fill="none"/>
<path d="M 682.0 390.9 L 685.2 395.6 L 686.7 391.7" stroke="#1a1470" stroke-width="1.1" fill="none"/>
<path d="M 668.8 368.3 L 629.7 416.7" stroke="#1a1470" stroke-width="1.1" fill="none"/>
<path d="M 659.4 382.3 L 671.9 382.3 L 682.8 389.4" stroke="#1a1470" stroke-width="1.1" fill="none"/>
<path d="M 670.3 383.1 L 660.9 395.6 L 658.6 409.7 L 660.2 430.0" stroke="#1a1470" stroke-width="1.1" fill="none"/>
<path d="M 695.3 399.5 L 703.9 397.2 L 707.8 390.9" stroke="#1a1470" stroke-width="1.1" fill="none"/>
<path d="M 335.0 562.5 L 348.3 571.4 L 394.4 556.6 C 400.6 553.8 403.8 549.5 406.1 544.1" stroke="#1a1470" stroke-width="1.1" fill="none"/>
<path d="M 339.7 500.3 L 340.5 509.7 L 347.5 512.8 L 348.3 571.4" stroke="#1a1470" stroke-width="1.1" fill="none"/>
<path d="M 345.2 514.4 L 345.9 556.6" stroke="#1a1470" stroke-width="1.1" fill="none"/>
<path d="M 335.0 500.3 L 339.7 500.3" stroke="#1a1470" stroke-width="1.1" fill="none"/>
<path d="M 335.0 522.2 L 339.7 523.8" stroke="#1a1470" stroke-width="1.1" fill="none"/>
<path d="M 348.3 529.2 L 397.5 514.4" stroke="#1a1470" stroke-width="1.1" fill="none"/>
<path d="M 389.7 516.7 L 410.0 528.4" stroke="#1a1470" stroke-width="1.1" fill="none"/>
<path d="M 350.6 562.0 L 394.4 549.5" stroke="#1a1470" stroke-width="1.1" fill="none"/>
<ellipse cx="361.9" cy="551.1" rx="7.0" ry="7.5" transform="rotate(0 361.9 551.1)" stroke="#1a1470" stroke-width="1.1" fill="none"/>
<ellipse cx="361.9" cy="551.1" rx="5.3" ry="5.8" transform="rotate(0 361.9 551.1)" stroke="#1a1470" stroke-width="1.1" fill="none"/>
<ellipse cx="363.9" cy="551.9" rx="2.8" ry="3.1" transform="rotate(0 363.9 551.9)" stroke="#1a1470" stroke-width="1.1" fill="none"/>
<path d="M 372.5 472.2 L 371.7 506.6" stroke="#1a1470" stroke-width="1.1" fill="none"/>
<path d="M 372.5 520.6 L 372.5 543.3 L 381.9 548.0 C 386.6 550.3 389.7 548.8 394.4 545.6" stroke="#1a1470" stroke-width="1.1" fill="none"/>
<path d="M 380.3 520.6 C 383.4 525.3 381.9 530.0 388.1 534.7 C 392.8 539.4 394.4 542.5 393.6 546.4" stroke="#1a1470" stroke-width="1.1" fill="none"/>
<ellipse cx="360.0" cy="417.5" rx="1.9" ry="3.4" transform="rotate(-12 360.0 417.5)" stroke="#1a1470" stroke-width="1.1" fill="none"/>
<ellipse cx="374.4" cy="454.2" rx="1.6" ry="3.1" transform="rotate(-12 374.4 454.2)" stroke="#1a1470" stroke-width="1.1" fill="none"/>
<ellipse cx="355.3" cy="479.2" rx="2.2" ry="4.4" transform="rotate(-12 355.3 479.2)" stroke="#1a1470" stroke-width="1.1" fill="none"/>
<ellipse cx="344.8" cy="504.2" rx="1.6" ry="3.1" transform="rotate(-12 344.8 504.2)" stroke="#1a1470" stroke-width="1.1" fill="none"/>
<ellipse cx="341.2" cy="546.4" rx="1.9" ry="3.4" transform="rotate(-12 341.2 546.4)" stroke="#1a1470" stroke-width="1.1" fill="none"/>
<ellipse cx="481.9" cy="431.2" rx="2.8" ry="2.0" transform="rotate(-20 481.9 431.2)" stroke="#1a1470" stroke-width="1.1" fill="none"/>
<ellipse cx="486.9" cy="493.6" rx="2.0" ry="2.8" transform="rotate(-12 486.9 493.6)" stroke="#1a1470" stroke-width="1.1" fill="none"/>
<path d="M 345.2 383.1 L 356.1 412.0 C 355.3 419.1 358.4 425.3 362.3 426.9 C 369.4 439.4 370.9 453.4 368.6 458.1 C 366.2 464.4 360.0 469.1 358.4 473.8" stroke="#1a1470" stroke-width="1.1" fill="none"/>
<path d="M 356.9 380.0 L 370.9 410.5 C 375.6 423.8 380.3 434.7 385.0 439.4 L 392.8 440.2" stroke="#1a1470" stroke-width="1.1" fill="none"/>
<path d="M 370.2 409.7 L 380.3 407.8 L 382.7 410.5" stroke="#1a1470" stroke-width="1.1" fill="none"/>
<ellipse cx="397.8" cy="421.4" rx="5.9" ry="6.2" transform="rotate(0 397.8 421.4)" stroke="#1a1470" stroke-width="1.1" fill="none"/>
<path d="M 387.3 415.2 C 385.0 422.2 388.1 430.0 392.8 432.3" stroke="#1a1470" stroke-width="1.1" fill="none"/>
<path d="M 406.9 417.5 C 409.2 423.8 407.7 430.0 403.8 433.1 L 400.6 434.7" stroke="#1a1470" stroke-width="1.1" fill="none"/>
<path d="M 401.4 437.5 L 410.0 436.2 C 413.9 432.3 415.5 427.7 420.2 425.8 L 438.1 420.9" stroke="#1a1470" stroke-width="1.1" fill="none"/>
<path d="M 438.1 420.9 L 447.5 410.5 C 450.6 406.6 453.8 398.8 458.4 389.4 C 460.0 385.0 464.7 383.4 469.7 386.2 C 477.5 390.9 479.5 398.8 476.4 406.6 L 472.5 413.6 C 470.9 416.7 472.5 417.8 475.6 416.7 C 481.9 415.2 485.0 406.6 491.2 404.2 L 495.0 403.4" stroke="#1a1470" stroke-width="1.1" fill="none"/>
<path d="M 456.9 400.3 C 458.4 392.5 463.1 388.6 468.1 390.2 C 474.1 393.3 475.6 400.3 473.8 406.2" stroke="#1a1470" stroke-width="1.1" fill="none"/>
<ellipse cx="467.8" cy="400.3" rx="5.9" ry="7.5" transform="rotate(-20 467.8 400.3)" stroke="#1a1470" stroke-width="1.1" fill="none"/>
<path d="M 465.5 394.8 C 470.9 394.1 474.1 400.3 471.2 405.8" stroke="#1a1470" stroke-width="1.1" fill="none"/>
<ellipse cx="458.4" cy="416.7" rx="5.5" ry="4.7" transform="rotate(-15 458.4 416.7)" stroke="#1a1470" stroke-width="1.1" fill="none"/>
<path d="M 455.3 415.2 C 458.4 412.0 463.1 413.6 462.8 418.3" stroke="#1a1470" stroke-width="1.1" fill="none"/>
<path d="M 438.1 419.1 L 447.5 408.9" stroke="#1a1470" stroke-width="1.1" fill="none"/>
<path d="M 442.8 418.3 L 449.1 411.2" stroke="#1a1470" stroke-width="1.1" fill="none"/>
<path d="M 380.3 453.4 L 395.2 448.3 L 495.0 417.5" stroke="#1a1470" stroke-width="1.1" fill="none"/>
<path d="M 395.9 455.8 L 435.0 443.3 C 441.2 445.6 447.5 448.8 453.8 451.1" stroke="#1a1470" stroke-width="1.1" fill="none"/>
<path d="M 395.2 448.3 L 394.4 454.2 L 396.7 456.6 L 396.7 468.3 L 383.4 472.5 L 381.9 463.6 L 395.2 458.9" stroke="#1a1470" stroke-width="1.1" fill="none"/>
<path d="M 380.3 453.4 L 381.9 463.6" stroke="#1a1470" stroke-width="1.1" fill="none"/>
<path d="M 453.0 441.7 L 465.5 437.8 L 467.0 426.1" stroke="#1a1470" stroke-width="1.1" fill="none"/>
<path d="M 453.0 441.7 L 453.8 451.1 L 467.0 447.2 L 467.0 437.8 L 465.5 437.8" stroke="#1a1470" stroke-width="1.1" fill="none"/>
<path d="M 464.7 426.9 L 467.8 426.1" stroke="#1a1470" stroke-width="1.1" fill="none"/>
<path d="M 442.0 448.8 L 417.8 480.0 L 417.0 490.2" stroke="#1a1470" stroke-width="1.1" fill="none"/>
<path d="M 447.5 453.4 C 442.8 462.8 441.2 473.8 442.8 486.2 L 439.7 489.4 L 433.4 486.2" stroke="#1a1470" stroke-width="1.1" fill="none"/>
<path d="M 416.2 494.1 L 428.8 501.9" stroke="#1a1470" stroke-width="1.1" fill="none"/>
<path d="M 395.2 491.7 C 402.2 498.8 410.0 505.0 416.2 514.4" stroke="#1a1470" stroke-width="1.1" fill="none"/>
<path d="M 384.2 501.1 L 398.3 510.5" stroke="#1a1470" stroke-width="1.1" fill="none"/>
<ellipse cx="424.4" cy="512.0" rx="5.9" ry="8.1" transform="rotate(10 424.4 512.0)" stroke="#1a1470" stroke-width="1.1" fill="none"/>
<ellipse cx="424.4" cy="512.0" rx="4.7" ry="6.7" transform="rotate(10 424.4 512.0)" stroke="#1a1470" stroke-width="1.1" fill="none"/>
<ellipse cx="414.7" cy="523.4" rx="4.4" ry="5.2" transform="rotate(15 414.7 523.4)" stroke="#1a1470" stroke-width="1.1" fill="none"/>
<ellipse cx="414.7" cy="523.4" rx="2.8" ry="3.4" transform="rotate(15 414.7 523.4)" stroke="#1a1470" stroke-width="1.1" fill="none"/>
<path d="M 420.2 523.8 L 428.8 531.6" stroke="#1a1470" stroke-width="1.1" fill="none"/>
<path d="M 410.0 528.4 L 403.8 539.4 L 406.1 544.1" stroke="#1a1470" stroke-width="1.1" fill="none"/>
<path d="M 430.3 503.4 L 453.8 497.2 C 463.1 495.6 472.5 496.4 481.9 498.0" stroke="#1a1470" stroke-width="1.1" fill="none"/>
<path d="M 450.6 498.8 L 448.3 526.1" stroke="#1a1470" stroke-width="1.1" fill="none"/>
<path d="M 456.9 507.3 C 463.1 509.7 466.2 514.4 467.8 519.1" stroke="#1a1470" stroke-width="1.1" fill="none"/>
<path d="M 472.5 519.1 L 481.9 500.3 L 485.0 506.6" stroke="#1a1470" stroke-width="1.1" fill="none"/>
<path d="M 481.9 500.3 L 495.0 496.4" stroke="#1a1470" stroke-width="1.1" fill="none"/>
<path d="M 477.2 437.8 L 487.3 461.2 L 488.9 473.8 L 482.7 495.6" stroke="#1a1470" stroke-width="1.1" fill="none"/>
<path d="M 482.7 440.9 L 491.2 462.8 L 492.0 473.8 L 488.9 489.4" stroke="#1a1470" stroke-width="1.1" fill="none"/>
<path d="M 484.2 437.8 L 495.0 448.8" stroke="#1a1470" stroke-width="1.1" fill="none"/>
<path d="M 476.4 433.1 C 475.6 430.0 476.4 426.9 478.4 426.2 L 495.0 422.2" stroke="#1a1470" stroke-width="1.1" fill="none"/>
<path d="M 408.4 538.6 L 466.2 523.0 L 495.0 512.8" stroke="#1a1470" stroke-width="1.1" fill="none"/>
<path d="M 406.1 544.1 L 464.7 527.7 L 495.0 519.1" stroke="#1a1470" stroke-width="1.1" fill="none"/>
<path d="M 335.0 411.2 L 349.8 394.8" stroke="#1a1470" stroke-width="1.1" fill="none"/>
<path d="M 336.6 420.6 L 348.3 398.8" stroke="#1a1470" stroke-width="1.1" fill="none"/>
<path d="M 355.3 413.6 L 356.9 422.2 L 361.6 426.9" stroke="#1a1470" stroke-width="1.1" fill="none"/>
<path d="M 355.3 444.1 L 363.1 433.1" stroke="#1a1470" stroke-width="1.1" fill="none"/>
<path d="M 335.0 440.2 L 341.2 441.7" stroke="#1a1470" stroke-width="1.1" fill="none"/>
<path d="M 342.8 447.2 C 349.1 448.8 351.4 456.6 350.6 464.4 C 349.1 476.9 344.4 486.2 341.2 492.5" stroke="#1a1470" stroke-width="1.1" fill="none"/>
<path d="M 357.7 475.3 L 369.4 467.5 L 380.3 472.2 L 372.5 481.6" stroke="#1a1470" stroke-width="1.1" fill="none"/>
<path d="M 358.4 480.8 L 370.2 468.3" stroke="#1a1470" stroke-width="1.1" fill="none"/>
<path d="M 360.0 484.7 L 370.9 482.3" stroke="#1a1470" stroke-width="1.1" fill="none"/>
<path d="M 352.2 486.2 L 360.8 487.0" stroke="#1a1470" stroke-width="1.1" fill="none"/>
<path d="M 349.8 494.1 L 358.4 490.2" stroke="#1a1470" stroke-width="1.1" fill="none"/>
<path d="M 347.5 498.8 C 349.1 495.6 350.6 493.3 353.8 491.7" stroke="#1a1470" stroke-width="1.1" fill="none"/>
<path d="M 357.7 497.2 C 359.2 503.4 356.9 508.1 350.6 508.9 L 347.5 512.8" stroke="#1a1470" stroke-width="1.1" fill="none"/>
<ellipse cx="572.3" cy="410.2" rx="6.2" ry="9.4" transform="rotate(-10 572.3 410.2)" stroke="#1a1470" stroke-width="1.1" fill="none"/>
<ellipse cx="576.2" cy="411.7" rx="5.0" ry="6.2" transform="rotate(-10 576.2 411.7)" stroke="#1a1470" stroke-width="1.1" fill="none"/>
<ellipse cx="578.6" cy="413.3" rx="2.8" ry="3.4" transform="rotate(0 578.6 413.3)" stroke="#1a1470" stroke-width="1.1" fill="none"/>
<ellipse cx="578.6" cy="413.3" rx="1.1" ry="1.4" transform="rotate(0 578.6 413.3)" stroke="#1a1470" stroke-width="1.1" fill="none"/>
<path d="M 495.0 417.5 L 655.0 368.0" stroke="#1a1470" stroke-width="1.1" fill="none"/>
<path d="M 495.0 388.3 L 509.8 385.2 C 518.4 381.2 521.6 373.4 526.2 365.6 C 528.6 361.7 534.1 360.6 540.6 363.3" stroke="#1a1470" stroke-width="1.1" fill="none"/>
<path d="M 546.6 370.3 C 549.7 376.6 548.1 384.4 545.0 389.1 L 541.9 392.2 C 541.9 395.6 546.6 396.2 549.7 393.8 C 552.8 390.6 555.2 386.7 560.6 383.6 L 580.2 377.3" stroke="#1a1470" stroke-width="1.1" fill="none"/>
<ellipse cx="538.0" cy="379.7" rx="6.2" ry="8.1" transform="rotate(-20 538.0 379.7)" stroke="#1a1470" stroke-width="1.1" fill="none"/>
<path d="M 535.9 373.4 C 541.9 373.4 545.0 380.5 541.6 386.2" stroke="#1a1470" stroke-width="1.1" fill="none"/>
<ellipse cx="528.6" cy="394.5" rx="5.6" ry="4.7" transform="rotate(-15 528.6 394.5)" stroke="#1a1470" stroke-width="1.1" fill="none"/>
<path d="M 525.0 393.0 C 528.6 389.8 533.3 391.9 533.3 396.1" stroke="#1a1470" stroke-width="1.1" fill="none"/>
<path d="M 530.9 368.8 C 532.5 364.1 538.0 363.3 541.9 365.6" stroke="#1a1470" stroke-width="1.1" fill="none"/>
<path d="M 509.1 396.9 L 518.4 386.7" stroke="#1a1470" stroke-width="1.1" fill="none"/>
<path d="M 513.8 396.9 L 520.8 389.1" stroke="#1a1470" stroke-width="1.1" fill="none"/>
<path d="M 580.2 377.3 C 588.8 373.4 595.0 360.9 598.4 354.4" stroke="#1a1470" stroke-width="1.1" fill="none"/>
<path d="M 618.4 357.8 C 620.0 364.1 618.4 368.8 613.8 372.7 L 611.4 373.4 C 612.2 375.9 615.3 375.3 618.4 373.4 C 624.7 370.3 627.8 364.1 634.1 362.5 L 655.0 356.2" stroke="#1a1470" stroke-width="1.1" fill="none"/>
<ellipse cx="609.8" cy="357.8" rx="6.2" ry="8.1" transform="rotate(-20 609.8 357.8)" stroke="#1a1470" stroke-width="1.1" fill="none"/>
<path d="M 607.8 351.6 C 613.8 351.6 616.9 358.6 613.4 364.4" stroke="#1a1470" stroke-width="1.1" fill="none"/>
<ellipse cx="600.0" cy="375.0" rx="5.9" ry="4.7" transform="rotate(-15 600.0 375.0)" stroke="#1a1470" stroke-width="1.1" fill="none"/>
<path d="M 596.6 373.4 C 600.0 370.3 604.7 372.2 604.7 376.6" stroke="#1a1470" stroke-width="1.1" fill="none"/>
<path d="M 579.4 378.1 L 587.2 368.8" stroke="#1a1470" stroke-width="1.1" fill="none"/>
<path d="M 584.1 378.1 L 590.3 371.1" stroke="#1a1470" stroke-width="1.1" fill="none"/>
<path d="M 495.0 422.2 L 554.4 404.7 C 556.7 404.4 557.8 406.2 557.2 409.1 L 541.9 475.0 L 537.2 483.1 L 495.0 496.1" stroke="#1a1470" stroke-width="1.1" fill="none"/>
<path d="M 515.3 429.7 L 545.8 416.4" stroke="#1a1470" stroke-width="1.1" fill="none"/>
<ellipse cx="552.5" cy="410.2" rx="1.9" ry="2.5" transform="rotate(20 552.5 410.2)" stroke="#1a1470" stroke-width="1.1" fill="none"/>
<ellipse cx="537.2" cy="478.9" rx="2.2" ry="2.8" transform="rotate(20 537.2 478.9)" stroke="#1a1470" stroke-width="1.1" fill="none"/>
<path d="M 495.0 448.4 L 521.6 417.2" stroke="#1a1470" stroke-width="1.1" fill="none"/>
<path d="M 502.0 450.0 L 530.2 471.1" stroke="#1a1470" stroke-width="1.1" fill="none"/>
<path d="M 500.5 452.3 L 528.6 474.2" stroke="#1a1470" stroke-width="1.1" fill="none"/>
<path d="M 495.0 465.6 L 501.2 451.6" stroke="#1a1470" stroke-width="1.1" fill="none"/>
<path d="M 501.2 493.0 L 531.7 485.2" stroke="#1a1470" stroke-width="1.1" fill="none"/>
<path d="M 523.9 503.1 L 532.5 484.4" stroke="#1a1470" stroke-width="1.1" fill="none"/>
<ellipse cx="497.3" cy="500.0" rx="3.8" ry="4.1" transform="rotate(0 497.3 500.0)" stroke="#1a1470" stroke-width="1.1" fill="none"/>
<path d="M 498.1 493.8 L 502.0 495.3" stroke="#1a1470" stroke-width="1.1" fill="none"/>
<path d="M 555.2 421.1 L 570.0 417.2" stroke="#1a1470" stroke-width="1.1" fill="none"/>
<path d="M 557.5 412.5 L 566.1 417.2" stroke="#1a1470" stroke-width="1.1" fill="none"/>
<path d="M 573.1 419.5 L 559.1 437.5" stroke="#1a1470" stroke-width="1.1" fill="none"/>
<path d="M 577.0 393.0 L 580.2 392.2 L 577.8 396.9" stroke="#1a1470" stroke-width="1.1" fill="none"/>
<path d="M 582.5 406.2 L 598.9 388.3" stroke="#1a1470" stroke-width="1.1" fill="none"/>
<path d="M 584.8 410.2 L 610.6 386.7" stroke="#1a1470" stroke-width="1.1" fill="none"/>
<path d="M 591.9 395.3 L 604.4 391.4" stroke="#1a1470" stroke-width="1.1" fill="none"/>
<path d="M 549.7 448.4 L 579.4 440.3" stroke="#1a1470" stroke-width="1.1" fill="none"/>
<path d="M 587.2 435.9 L 648.1 418.8" stroke="#1a1470" stroke-width="1.1" fill="none"/>
<path d="M 546.6 460.2 L 577.8 451.6" stroke="#1a1470" stroke-width="1.1" fill="none"/>
<path d="M 588.0 448.4 L 647.3 430.9" stroke="#1a1470" stroke-width="1.1" fill="none"/>
<ellipse cx="610.6" cy="406.2" rx="1.6" ry="1.7" transform="rotate(0 610.6 406.2)" stroke="#1a1470" stroke-width="1.1" fill="none"/>
<path d="M 609.4 407.5 L 607.8 409.7" stroke="#1a1470" stroke-width="1.1" fill="none"/>
<ellipse cx="602.8" cy="409.1" rx="1.6" ry="1.7" transform="rotate(0 602.8 409.1)" stroke="#1a1470" stroke-width="1.1" fill="none"/>
<path d="M 601.6 410.3 L 600.0 412.5" stroke="#1a1470" stroke-width="1.1" fill="none"/>
<ellipse cx="594.2" cy="412.2" rx="1.6" ry="1.7" transform="rotate(0 594.2 412.2)" stroke="#1a1470" stroke-width="1.1" fill="none"/>
<path d="M 593.0 413.4 L 591.4 415.6" stroke="#1a1470" stroke-width="1.1" fill="none"/>
<ellipse cx="610.3" cy="417.5" rx="1.6" ry="1.7" transform="rotate(0 610.3 417.5)" stroke="#1a1470" stroke-width="1.1" fill="none"/>
<path d="M 609.1 418.8 L 607.5 420.9" stroke="#1a1470" stroke-width="1.1" fill="none"/>
<ellipse cx="602.0" cy="420.3" rx="1.6" ry="1.7" transform="rotate(0 602.0 420.3)" stroke="#1a1470" stroke-width="1.1" fill="none"/>
<path d="M 600.8 421.6 L 599.2 423.8" stroke="#1a1470" stroke-width="1.1" fill="none"/>
<ellipse cx="594.2" cy="422.7" rx="1.6" ry="1.7" transform="rotate(0 594.2 422.7)" stroke="#1a1470" stroke-width="1.1" fill="none"/>
<path d="M 593.0 423.9 L 591.4 426.1" stroke="#1a1470" stroke-width="1.1" fill="none"/>
<ellipse cx="587.2" cy="425.0" rx="1.6" ry="1.7" transform="rotate(0 587.2 425.0)" stroke="#1a1470" stroke-width="1.1" fill="none"/>
<path d="M 585.9 426.2 L 584.4 428.4" stroke="#1a1470" stroke-width="1.1" fill="none"/>
<path d="M 582.5 420.3 L 582.5 465.6 L 584.8 467.2" stroke="#1a1470" stroke-width="1.1" fill="none"/>
<path d="M 587.2 467.2 C 588.8 470.3 589.5 475.0 589.5 478.9" stroke="#1a1470" stroke-width="1.1" fill="none"/>
<ellipse cx="566.9" cy="475.0" rx="5.9" ry="7.8" transform="rotate(-10 566.9 475.0)" stroke="#1a1470" stroke-width="1.1" fill="none"/>
<ellipse cx="567.2" cy="475.3" rx="3.9" ry="5.0" transform="rotate(-10 567.2 475.3)" stroke="#1a1470" stroke-width="1.1" fill="none"/>
<path d="M 559.1 468.8 C 556.7 475.0 558.3 482.8 562.2 485.9" stroke="#1a1470" stroke-width="1.1" fill="none"/>
<path d="M 563.8 473.4 C 565.3 470.3 570.0 471.1 570.8 475.0" stroke="#1a1470" stroke-width="1.1" fill="none"/>
<path d="M 566.1 477.3 L 569.2 475.0" stroke="#1a1470" stroke-width="1.1" fill="none"/>
<path d="M 557.5 457.8 L 558.3 465.6" stroke="#1a1470" stroke-width="1.1" fill="none"/>
<path d="M 562.2 461.7 L 568.4 465.6" stroke="#1a1470" stroke-width="1.1" fill="none"/>
<path d="M 548.9 475.8 C 552.8 479.7 555.2 484.4 555.2 489.1 L 545.0 491.4" stroke="#1a1470" stroke-width="1.1" fill="none"/>
<path d="M 564.5 485.2 L 570.0 488.3" stroke="#1a1470" stroke-width="1.1" fill="none"/>
<ellipse cx="643.4" cy="452.3" rx="6.2" ry="8.1" transform="rotate(-10 643.4 452.3)" stroke="#1a1470" stroke-width="1.1" fill="none"/>
<ellipse cx="643.4" cy="452.7" rx="4.2" ry="5.6" transform="rotate(-10 643.4 452.7)" stroke="#1a1470" stroke-width="1.1" fill="none"/>
<path d="M 640.3 450.0 C 641.9 446.9 646.6 447.7 647.3 451.6" stroke="#1a1470" stroke-width="1.1" fill="none"/>
<path d="M 642.7 454.7 L 645.8 452.3" stroke="#1a1470" stroke-width="1.1" fill="none"/>
<path d="M 630.2 435.2 L 630.9 459.4 L 632.5 460.9" stroke="#1a1470" stroke-width="1.1" fill="none"/>
<path d="M 637.2 439.1 L 645.0 443.8" stroke="#1a1470" stroke-width="1.1" fill="none"/>
<path d="M 645.8 465.6 L 655.0 471.1" stroke="#1a1470" stroke-width="1.1" fill="none"/>
<path d="M 610.6 454.7 C 607.5 459.4 609.1 465.6 612.2 468.0" stroke="#1a1470" stroke-width="1.1" fill="none"/>
<path d="M 615.3 453.9 C 620.0 457.8 622.3 462.5 623.1 468.0" stroke="#1a1470" stroke-width="1.1" fill="none"/>
<path d="M 630.2 417.2 L 630.9 412.5" stroke="#1a1470" stroke-width="1.1" fill="none"/>
<path d="M 495.0 512.8 L 606.7 478.9" stroke="#1a1470" stroke-width="1.1" fill="none"/>
<path d="M 495.0 519.1 L 613.8 485.2 C 627.8 482.8 643.4 482.0 655.0 481.2" stroke="#1a1470" stroke-width="1.1" fill="none"/>
<path d="M 618.4 476.9 C 630.9 475.0 643.4 474.2 655.0 473.4" stroke="#1a1470" stroke-width="1.1" fill="none"/>
<path d="M 723.4 430.0 L 722.7 450.3 L 720.3 467.5 L 718.0 473.8 L 689.1 483.9 L 684.4 481.6" stroke="#1a1470" stroke-width="1.1" fill="none"/>
<ellipse cx="680.5" cy="430.3" rx="12.5" ry="26.9" transform="rotate(-9 680.5 430.3)" stroke="#1a1470" stroke-width="1.1" fill="none"/>
<path d="M 673.4 411.2 C 668.8 420.6 668.8 433.1 673.4 445.6 C 675.8 450.3 678.1 451.9 681.2 452.2" stroke="#1a1470" stroke-width="1.1" fill="none"/>
<path d="M 678.9 449.5 L 682.0 448.8 L 687.5 453.4" stroke="#1a1470" stroke-width="1.1" fill="none"/>
<path d="M 660.2 430.0 L 664.8 445.6 L 671.9 461.2 L 685.2 480.0 L 689.1 483.9" stroke="#1a1470" stroke-width="1.1" fill="none"/>
<path d="M 664.8 447.2 L 678.9 470.6 L 689.8 475.3" stroke="#1a1470" stroke-width="1.1" fill="none"/>
<ellipse cx="684.1" cy="466.7" rx="2.2" ry="4.7" transform="rotate(-15 684.1 466.7)" stroke="#1a1470" stroke-width="1.1" fill="none"/>
<ellipse cx="709.4" cy="454.2" rx="5.9" ry="7.8" transform="rotate(12 709.4 454.2)" stroke="#1a1470" stroke-width="1.1" fill="none"/>
<ellipse cx="709.4" cy="454.2" rx="4.4" ry="6.2" transform="rotate(12 709.4 454.2)" stroke="#1a1470" stroke-width="1.1" fill="none"/>
<path d="M 650.0 443.3 C 656.2 448.8 660.2 458.1 660.2 464.4" stroke="#1a1470" stroke-width="1.1" fill="none"/>
<path d="M 655.0 481.2 C 665.6 480.0 675.0 480.0 684.4 481.6" stroke="#1a1470" stroke-width="1.1" fill="none"/>
<path d="M 655.0 473.4 L 665.6 473.8" stroke="#1a1470" stroke-width="1.1" fill="none"/>
<path d="M 668.8 474.1 L 679.7 475.0" stroke="#1a1470" stroke-width="1.1" fill="none"/>
<ellipse cx="319.8" cy="404.2" rx="6.1" ry="13.2" transform="rotate(-10 319.8 404.2)" stroke="#1a1470" stroke-width="1.1" fill="none"/>
<path d="M 314.5 384.2 C 310.5 388.6 309.1 396.4 309.1 403.2 L 308.4 403.8" stroke="#1a1470" stroke-width="1.1" fill="none"/>
<path d="M 294.9 370.0 C 292.8 373.0 293.0 380.8 295.9 387.6 L 300.8 394.5 L 301.3 400.3" stroke="#1a1470" stroke-width="1.1" fill="none"/>
<path d="M 303.2 393.0 L 303.2 400.3" stroke="#1a1470" stroke-width="1.1" fill="none"/>
<path d="M 300.8 402.3 L 298.8 404.4 L 298.3 415.0" stroke="#1a1470" stroke-width="1.1" fill="none"/>
<path d="M 318.8 359.8 L 331.5 350.0 L 333.5 351.0 L 338.4 364.2 L 335.0 366.3" stroke="#1a1470" stroke-width="1.1" fill="none"/>
<path d="M 328.1 354.4 L 334.0 367.1" stroke="#1a1470" stroke-width="1.1" fill="none"/>
<path d="M 318.4 369.1 L 322.3 375.9 L 322.8 381.8" stroke="#1a1470" stroke-width="1.1" fill="none"/>
<path d="M 268.1 441.3 L 273.4 433.5 L 277.8 432.5" stroke="#1a1470" stroke-width="1.1" fill="none"/>
<path d="M 272.0 367.6 L 281.7 361.7" stroke="#1a1470" stroke-width="1.1" fill="none"/>
<path d="M 268.6 400.3 C 267.6 405.2 270.0 410.6 273.4 411.1 C 276.6 410.1 276.4 404.2 273.9 400.5" stroke="#1a1470" stroke-width="1.1" fill="none"/>
<path d="M 695.1 378.1 L 694.5 391.2 L 695.1 399.4 L 696.4 417.5 L 698.9 442.5 L 698.2 452.5 L 696.4 460.0 L 692.0 472.5 L 690.1 475.6" stroke="#1a1470" stroke-width="1.1" fill="none"/>
<path d="M 709.5 389.8 L 714.5 417.5 L 716.4 442.5 L 715.8 450.6" stroke="#1a1470" stroke-width="1.1" fill="none"/>
<path d="M 697.0 408.1 C 702.0 417.5 705.1 430.0 705.8 445.0" stroke="#1a1470" stroke-width="1.1" fill="none"/>
<path d="M 697.0 460.0 C 700.8 461.2 703.2 462.5 705.1 463.2" stroke="#1a1470" stroke-width="1.1" fill="none"/>
<path d="M 690.8 475.6 L 713.9 468.8 L 715.1 466.0" stroke="#1a1470" stroke-width="1.1" fill="none"/>
<path d="M 331.2 325.0 L 354.2 375.0 L 380.3 453.4" stroke="#1a1470" stroke-width="1.1" fill="none"/>
<path d="M 334.5 338.4 L 340.2 355.0 L 376.4 445.0" stroke="#1a1470" stroke-width="1.1" fill="none"/>
<path d="M 364.7 356.6 C 365.5 364.0 367.5 369.0 369.4 372.6 C 374.0 382.0 377.0 389.0 380.6 394.4 C 386.0 402.0 393.0 408.0 400.0 413.3 L 406.0 417.0" stroke="#1a1470" stroke-width="1.1" fill="none"/>
</g>
<g id="labels" stroke="#0a0a14" stroke-width="0.35" opacity="0.99">
<text transform="translate(330 160.5) scale(0.94 1)" font-size="18">25</text>
<text transform="translate(378.4 161.8) scale(0.94 1)" font-size="18">35</text>
<text transform="translate(298.8 213.8) scale(0.94 1)" font-size="18">30</text>
<text transform="translate(719.2 237.2) scale(0.94 1)" font-size="18">85</text>
<text transform="translate(740.3 285.2) scale(0.94 1)" font-size="18">65</text>
<text transform="translate(756.7 325.8) scale(0.94 1)" font-size="18">95</text>
<text transform="translate(771.1 378.6) scale(0.94 1)" font-size="18">80</text>
<text transform="translate(892.2 221.6) scale(0.94 1)" font-size="18">70</text>
<text transform="translate(872.4 321.8) scale(0.94 1)" font-size="18">60</text>
<text transform="translate(136.0 453.0) scale(0.94 1)" font-size="18">65</text>
<text transform="translate(81.2 483.3) scale(0.87 1)" font-size="18">100</text>
<text transform="translate(166.2 532.5) scale(0.94 1)" font-size="18">90</text>
<text transform="translate(664.9 543.3) scale(0.87 1)" font-size="18">130</text>
<text transform="translate(624.9 626.4) scale(0.94 1)" font-size="18">40</text>
<text transform="translate(438.2 618.5) scale(0.87 1)" font-size="18">150</text>
<text transform="translate(422.8 677.2) scale(0.87 1)" font-size="18">160</text>
<text transform="translate(253.2 754.5) scale(0.94 1)" font-size="18">15</text>
<text transform="translate(291.2 764) scale(0.94 1)" font-size="18">10</text>
<text transform="translate(394.6 761) scale(0.94 1)" font-size="18">20</text>
</g>
</svg>
</body></html>
